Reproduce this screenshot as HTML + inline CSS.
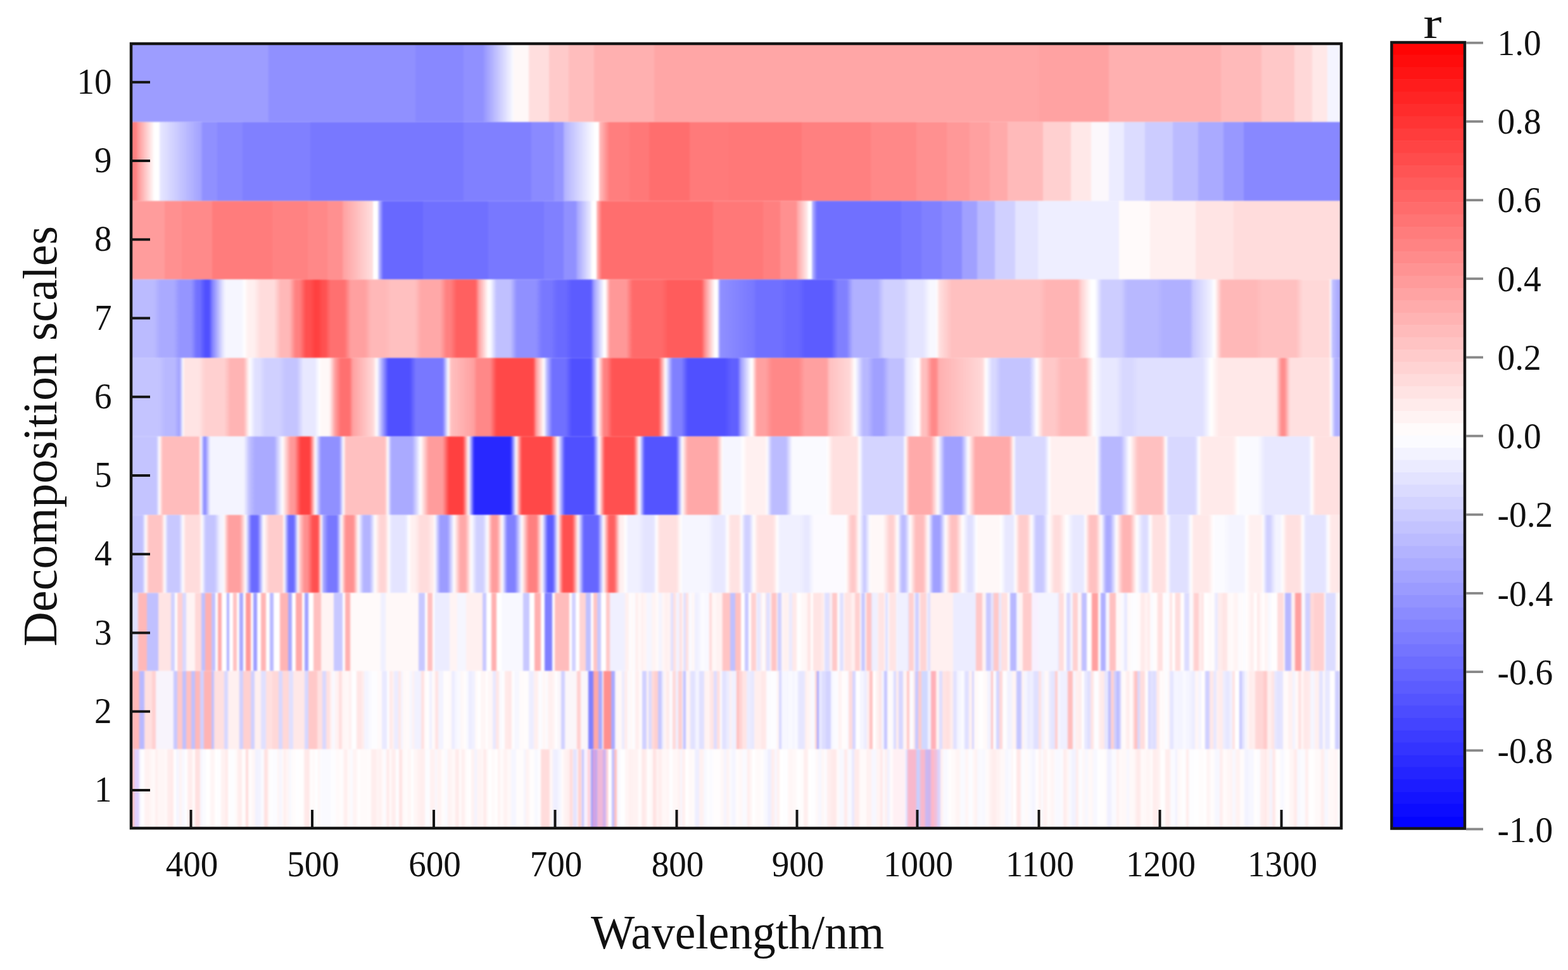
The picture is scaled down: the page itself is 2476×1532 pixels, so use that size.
<!DOCTYPE html><html><head><meta charset="utf-8"><title>Decomposition scales heatmap</title><style>html,body{margin:0;padding:0;background:#fff;}body{width:2476px;height:1532px;overflow:hidden;}svg{display:block;}</style></head><body><svg width="2476" height="1532" viewBox="0 0 2476 1532"><defs><linearGradient id="g1" x1="0" x2="1" y1="0" y2="0"><stop offset="0" stop-color="#9494ff"/><stop offset="1" stop-color="#fbfbff"/></linearGradient><linearGradient id="g2" x1="0" x2="1" y1="0" y2="0"><stop offset="0" stop-color="#ff9090"/><stop offset="1" stop-color="#ffffff"/></linearGradient><linearGradient id="g3" x1="0" x2="1" y1="0" y2="0"><stop offset="0" stop-color="#e8e8ff"/><stop offset="1" stop-color="#a0a0ff"/></linearGradient><linearGradient id="g4" x1="0" x2="1" y1="0" y2="0"><stop offset="0" stop-color="#b0b0ff"/><stop offset="1" stop-color="#ffffff"/></linearGradient><linearGradient id="g5" x1="0" x2="1" y1="0" y2="0"><stop offset="0" stop-color="#ffc0c0"/><stop offset="1" stop-color="#ff8080"/></linearGradient><linearGradient id="g6" x1="0" x2="1" y1="0" y2="0"><stop offset="0" stop-color="#ffa0a0"/><stop offset="1" stop-color="#ffe0e0"/></linearGradient><linearGradient id="g7" x1="0" x2="1" y1="0" y2="0"><stop offset="0" stop-color="#d0d0ff"/><stop offset="1" stop-color="#6868ff"/></linearGradient><linearGradient id="g8" x1="0" x2="1" y1="0" y2="0"><stop offset="0" stop-color="#a0a0ff"/><stop offset="1" stop-color="#f0f0ff"/></linearGradient><linearGradient id="g9" x1="0" x2="1" y1="0" y2="0"><stop offset="0" stop-color="#ffc0c0"/><stop offset="1" stop-color="#ff7070"/></linearGradient><linearGradient id="g10" x1="0" x2="1" y1="0" y2="0"><stop offset="0" stop-color="#ffa0a0"/><stop offset="1" stop-color="#fff0f0"/></linearGradient><linearGradient id="g11" x1="0" x2="1" y1="0" y2="0"><stop offset="0" stop-color="#c0c0ff"/><stop offset="1" stop-color="#7070ff"/></linearGradient><linearGradient id="g12" gradientUnits="userSpaceOnUse" x1="207" x2="2118" y1="0" y2="0"><stop offset="0.00000" stop-color="#bbbbff"/><stop offset="0.00262" stop-color="#bbbbff"/><stop offset="0.01884" stop-color="#bbbbff"/><stop offset="0.02407" stop-color="#aaaaff"/><stop offset="0.03506" stop-color="#aaaaff"/><stop offset="0.04029" stop-color="#9595ff"/><stop offset="0.04971" stop-color="#9595ff"/><stop offset="0.05421" stop-color="#7070ff"/><stop offset="0.05672" stop-color="#7070ff"/><stop offset="0.06112" stop-color="#5050ff"/><stop offset="0.06447" stop-color="#5050ff"/><stop offset="0.06698" stop-color="#8080ff"/><stop offset="0.07535" stop-color="#e0e0ff"/><stop offset="0.07797" stop-color="#f6f6ff"/><stop offset="0.09158" stop-color="#f6f6ff"/><stop offset="0.09354" stop-color="#ffffff"/><stop offset="0.09681" stop-color="#fff0f0"/><stop offset="0.10152" stop-color="#fff0f0"/><stop offset="0.10675" stop-color="#ffdcdc"/><stop offset="0.11826" stop-color="#ffdcdc"/><stop offset="0.12350" stop-color="#ffb8b8"/><stop offset="0.13082" stop-color="#ffb8b8"/><stop offset="0.13595" stop-color="#ff8080"/><stop offset="0.13930" stop-color="#ff8080"/><stop offset="0.14432" stop-color="#ff5050"/><stop offset="0.14767" stop-color="#ff5050"/><stop offset="0.15207" stop-color="#ff4040"/><stop offset="0.15458" stop-color="#ff4040"/><stop offset="0.15819" stop-color="#ff5050"/><stop offset="0.16049" stop-color="#ff5050"/><stop offset="0.16484" stop-color="#ff7070"/><stop offset="0.17635" stop-color="#ff7070"/><stop offset="0.18158" stop-color="#ffa0a0"/><stop offset="0.19309" stop-color="#ffa0a0"/><stop offset="0.19833" stop-color="#ffb8b8"/><stop offset="0.20984" stop-color="#ffb8b8"/><stop offset="0.21507" stop-color="#ffc0c0"/><stop offset="0.23443" stop-color="#ffc0c0"/><stop offset="0.23967" stop-color="#ffa8a8"/><stop offset="0.25536" stop-color="#ffa8a8"/><stop offset="0.26049" stop-color="#ff8080"/><stop offset="0.26384" stop-color="#ff8080"/><stop offset="0.26897" stop-color="#ff6060"/><stop offset="0.28467" stop-color="#ff6060"/><stop offset="0.28728" stop-color="#ffa0a0"/><stop offset="0.29513" stop-color="#ffffff"/><stop offset="0.29723" stop-color="#f8f8ff"/><stop offset="0.30194" stop-color="#c0c0ff"/><stop offset="0.31345" stop-color="#c0c0ff"/><stop offset="0.31868" stop-color="#9090ff"/><stop offset="0.33438" stop-color="#9090ff"/><stop offset="0.33961" stop-color="#7878ff"/><stop offset="0.34694" stop-color="#7878ff"/><stop offset="0.35217" stop-color="#6a6aff"/><stop offset="0.35897" stop-color="#6a6aff"/><stop offset="0.36421" stop-color="#5c5cff"/><stop offset="0.37991" stop-color="#5c5cff"/><stop offset="0.38252" stop-color="#a0a0ff"/><stop offset="0.39089" stop-color="#ffffff"/><stop offset="0.39194" stop-color="#ffffff"/><stop offset="0.39560" stop-color="#ff9898"/><stop offset="0.40921" stop-color="#ff9898"/><stop offset="0.41444" stop-color="#ff6a6a"/><stop offset="0.43851" stop-color="#ff6a6a"/><stop offset="0.44375" stop-color="#ff5c5c"/><stop offset="0.47148" stop-color="#ff5c5c"/><stop offset="0.47410" stop-color="#ff9090"/><stop offset="0.48247" stop-color="#ffffff"/><stop offset="0.48456" stop-color="#ffffff"/><stop offset="0.48666" stop-color="#9090ff"/><stop offset="0.51439" stop-color="#7878ff"/><stop offset="0.51701" stop-color="#7070ff"/><stop offset="0.53689" stop-color="#7070ff"/><stop offset="0.54212" stop-color="#6868ff"/><stop offset="0.55154" stop-color="#6868ff"/><stop offset="0.55678" stop-color="#5c5cff"/><stop offset="0.57875" stop-color="#5c5cff"/><stop offset="0.58399" stop-color="#8080ff"/><stop offset="0.59131" stop-color="#8080ff"/><stop offset="0.59655" stop-color="#b0b0ff"/><stop offset="0.61695" stop-color="#b0b0ff"/><stop offset="0.62219" stop-color="#d0d0ff"/><stop offset="0.63789" stop-color="#d0d0ff"/><stop offset="0.64312" stop-color="#e4e4ff"/><stop offset="0.65463" stop-color="#e4e4ff"/><stop offset="0.65986" stop-color="#f8f8ff"/><stop offset="0.66510" stop-color="#f8f8ff"/><stop offset="0.66558" stop-color="#ffffff"/><stop offset="0.66771" stop-color="#ffe0e0"/><stop offset="0.67818" stop-color="#ffc0c0"/><stop offset="0.68080" stop-color="#ffc0c0"/><stop offset="0.75092" stop-color="#ffc0c0"/><stop offset="0.75615" stop-color="#ffb4b4"/><stop offset="0.78231" stop-color="#ffb4b4"/><stop offset="0.78493" stop-color="#ffd0d0"/><stop offset="0.79330" stop-color="#ffffff"/><stop offset="0.79644" stop-color="#ffffff"/><stop offset="0.80220" stop-color="#cdcdff"/><stop offset="0.81790" stop-color="#cdcdff"/><stop offset="0.82313" stop-color="#b8b8ff"/><stop offset="0.84772" stop-color="#b8b8ff"/><stop offset="0.85296" stop-color="#b0b0ff"/><stop offset="0.87493" stop-color="#b0b0ff"/><stop offset="0.87755" stop-color="#c8c8ff"/><stop offset="0.89220" stop-color="#f0f0ff"/><stop offset="0.89534" stop-color="#ffffff"/><stop offset="0.90110" stop-color="#ffb8b8"/><stop offset="0.92936" stop-color="#ffb8b8"/><stop offset="0.93459" stop-color="#ffc0c0"/><stop offset="0.96285" stop-color="#ffc0c0"/><stop offset="0.96808" stop-color="#ffd8d8"/><stop offset="0.99006" stop-color="#ffd8d8"/><stop offset="0.99106" stop-color="#ffffff"/><stop offset="0.99267" stop-color="#c0c0ff"/><stop offset="1.00000" stop-color="#a0a0ff"/></linearGradient><linearGradient id="g13" gradientUnits="userSpaceOnUse" x1="207" x2="2118" y1="0" y2="0"><stop offset="0.00000" stop-color="#c4c4ff"/><stop offset="0.00262" stop-color="#c4c4ff"/><stop offset="0.02302" stop-color="#c4c4ff"/><stop offset="0.02826" stop-color="#b8b8ff"/><stop offset="0.03611" stop-color="#b8b8ff"/><stop offset="0.04003" stop-color="#a0a0ff"/><stop offset="0.04309" stop-color="#ffffff"/><stop offset="0.04396" stop-color="#ffe4e4"/><stop offset="0.05599" stop-color="#ffe4e4"/><stop offset="0.06122" stop-color="#ffd0d0"/><stop offset="0.07692" stop-color="#ffd0d0"/><stop offset="0.08216" stop-color="#ffb4b4"/><stop offset="0.09314" stop-color="#ffb4b4"/><stop offset="0.09785" stop-color="#ffffff"/><stop offset="0.10246" stop-color="#e0e0ff"/><stop offset="0.10581" stop-color="#e0e0ff"/><stop offset="0.11094" stop-color="#d0d0ff"/><stop offset="0.12245" stop-color="#d0d0ff"/><stop offset="0.12768" stop-color="#c4c4ff"/><stop offset="0.13710" stop-color="#c4c4ff"/><stop offset="0.14233" stop-color="#e8e8ff"/><stop offset="0.15175" stop-color="#e8e8ff"/><stop offset="0.15576" stop-color="#ffffff"/><stop offset="0.15699" stop-color="#fff8f8"/><stop offset="0.16379" stop-color="#fff8f8"/><stop offset="0.16850" stop-color="#ffa0a0"/><stop offset="0.17321" stop-color="#ff7070"/><stop offset="0.18053" stop-color="#ff7070"/><stop offset="0.18315" stop-color="#ffa0a0"/><stop offset="0.19990" stop-color="#ffd8d8"/><stop offset="0.20304" stop-color="#ffffff"/><stop offset="0.20617" stop-color="#c0c0ff"/><stop offset="0.21245" stop-color="#5050ff"/><stop offset="0.21507" stop-color="#5050ff"/><stop offset="0.23025" stop-color="#5050ff"/><stop offset="0.23548" stop-color="#7878ff"/><stop offset="0.25746" stop-color="#7878ff"/><stop offset="0.26217" stop-color="#ffffff"/><stop offset="0.26426" stop-color="#ffc0c0"/><stop offset="0.28310" stop-color="#ffa0a0"/><stop offset="0.28571" stop-color="#ff8888"/><stop offset="0.29670" stop-color="#ff8888"/><stop offset="0.30194" stop-color="#ff4848"/><stop offset="0.33229" stop-color="#ff4848"/><stop offset="0.33490" stop-color="#ffa0a0"/><stop offset="0.34118" stop-color="#ffffff"/><stop offset="0.34328" stop-color="#c0c0ff"/><stop offset="0.34799" stop-color="#7070ff"/><stop offset="0.35897" stop-color="#7070ff"/><stop offset="0.36421" stop-color="#5050ff"/><stop offset="0.37991" stop-color="#5050ff"/><stop offset="0.38566" stop-color="#ffffff"/><stop offset="0.39069" stop-color="#ff8080"/><stop offset="0.39320" stop-color="#ff8080"/><stop offset="0.39770" stop-color="#ff5454"/><stop offset="0.43590" stop-color="#ff5454"/><stop offset="0.44165" stop-color="#ffffff"/><stop offset="0.44741" stop-color="#8080ff"/><stop offset="0.45474" stop-color="#8080ff"/><stop offset="0.45997" stop-color="#5050ff"/><stop offset="0.49084" stop-color="#5050ff"/><stop offset="0.49608" stop-color="#6060ff"/><stop offset="0.50131" stop-color="#6060ff"/><stop offset="0.50392" stop-color="#a0a0ff"/><stop offset="0.51230" stop-color="#ffffff"/><stop offset="0.51334" stop-color="#ffffff"/><stop offset="0.51701" stop-color="#ffa0a0"/><stop offset="0.52433" stop-color="#ffa0a0"/><stop offset="0.52957" stop-color="#ff8888"/><stop offset="0.55154" stop-color="#ff8888"/><stop offset="0.55678" stop-color="#ffa0a0"/><stop offset="0.57457" stop-color="#ffa0a0"/><stop offset="0.57718" stop-color="#ffc0c0"/><stop offset="0.59393" stop-color="#ffd8d8"/><stop offset="0.59812" stop-color="#ffffff"/><stop offset="0.60492" stop-color="#b8b8ff"/><stop offset="0.60858" stop-color="#b8b8ff"/><stop offset="0.61381" stop-color="#a0a0ff"/><stop offset="0.62114" stop-color="#a0a0ff"/><stop offset="0.62637" stop-color="#c0c0ff"/><stop offset="0.63789" stop-color="#c0c0ff"/><stop offset="0.64050" stop-color="#e4e4ff"/><stop offset="0.65097" stop-color="#ffffff"/><stop offset="0.65348" stop-color="#ffc0c0"/><stop offset="0.65683" stop-color="#ffc0c0"/><stop offset="0.66185" stop-color="#ff8888"/><stop offset="0.66520" stop-color="#ff8888"/><stop offset="0.66771" stop-color="#ffb0b0"/><stop offset="0.70330" stop-color="#ffd8d8"/><stop offset="0.70644" stop-color="#ffffff"/><stop offset="0.71146" stop-color="#d8d8ff"/><stop offset="0.71397" stop-color="#d8d8ff"/><stop offset="0.71847" stop-color="#c4c4ff"/><stop offset="0.74254" stop-color="#c4c4ff"/><stop offset="0.74830" stop-color="#ffffff"/><stop offset="0.75406" stop-color="#ffc8c8"/><stop offset="0.76347" stop-color="#ffc8c8"/><stop offset="0.76871" stop-color="#ffb8b8"/><stop offset="0.78859" stop-color="#ffb8b8"/><stop offset="0.79540" stop-color="#ffffff"/><stop offset="0.80220" stop-color="#e8e8ff"/><stop offset="0.81423" stop-color="#e8e8ff"/><stop offset="0.81947" stop-color="#d8d8ff"/><stop offset="0.82679" stop-color="#d8d8ff"/><stop offset="0.83203" stop-color="#e0e0ff"/><stop offset="0.88540" stop-color="#e0e0ff"/><stop offset="0.89220" stop-color="#ffffff"/><stop offset="0.89901" stop-color="#ffe8e8"/><stop offset="0.94610" stop-color="#ffe8e8"/><stop offset="0.95060" stop-color="#ff8c8c"/><stop offset="0.95311" stop-color="#ff8c8c"/><stop offset="0.95761" stop-color="#ffe0e0"/><stop offset="0.99006" stop-color="#ffe0e0"/><stop offset="0.99141" stop-color="#ffffff"/><stop offset="0.99487" stop-color="#b0b0ff"/><stop offset="0.99780" stop-color="#b0b0ff"/><stop offset="1.00000" stop-color="#b0b0ff"/></linearGradient><linearGradient id="g14" gradientUnits="userSpaceOnUse" x1="207" x2="2118" y1="0" y2="0"><stop offset="0.00000" stop-color="#c4c4ff"/><stop offset="0.00262" stop-color="#c4c4ff"/><stop offset="0.02093" stop-color="#c4c4ff"/><stop offset="0.02338" stop-color="#ffffff"/><stop offset="0.02616" stop-color="#ffbcbc"/><stop offset="0.05599" stop-color="#ffbcbc"/><stop offset="0.05762" stop-color="#ffffff"/><stop offset="0.06070" stop-color="#8080ff"/><stop offset="0.06541" stop-color="#f4f4ff"/><stop offset="0.09314" stop-color="#f4f4ff"/><stop offset="0.09785" stop-color="#c0c0ff"/><stop offset="0.10256" stop-color="#aaaaff"/><stop offset="0.11826" stop-color="#aaaaff"/><stop offset="0.12507" stop-color="#ffffff"/><stop offset="0.13176" stop-color="#ff9898"/><stop offset="0.13511" stop-color="#ff9898"/><stop offset="0.14024" stop-color="#ff4040"/><stop offset="0.14757" stop-color="#ff4040"/><stop offset="0.15228" stop-color="#ffffff"/><stop offset="0.15699" stop-color="#9090ff"/><stop offset="0.17216" stop-color="#9090ff"/><stop offset="0.17550" stop-color="#ffffff"/><stop offset="0.17739" stop-color="#ffc0c0"/><stop offset="0.20984" stop-color="#ffc0c0"/><stop offset="0.21207" stop-color="#ffffff"/><stop offset="0.21507" stop-color="#aaaaff"/><stop offset="0.23234" stop-color="#aaaaff"/><stop offset="0.23914" stop-color="#ffffff"/><stop offset="0.24594" stop-color="#ff9c9c"/><stop offset="0.25746" stop-color="#ff9c9c"/><stop offset="0.26269" stop-color="#ff4040"/><stop offset="0.27420" stop-color="#ff4040"/><stop offset="0.27891" stop-color="#ffffff"/><stop offset="0.28362" stop-color="#2828ff"/><stop offset="0.31345" stop-color="#2828ff"/><stop offset="0.31816" stop-color="#ffffff"/><stop offset="0.32287" stop-color="#ff4848"/><stop offset="0.34694" stop-color="#ff4848"/><stop offset="0.35269" stop-color="#ffffff"/><stop offset="0.35845" stop-color="#5050ff"/><stop offset="0.38200" stop-color="#5050ff"/><stop offset="0.38671" stop-color="#ffffff"/><stop offset="0.39142" stop-color="#ff5050"/><stop offset="0.41549" stop-color="#ff5050"/><stop offset="0.41994" stop-color="#ffffff"/><stop offset="0.42439" stop-color="#5454ff"/><stop offset="0.45055" stop-color="#5454ff"/><stop offset="0.45526" stop-color="#ffffff"/><stop offset="0.45997" stop-color="#ffa8a8"/><stop offset="0.48404" stop-color="#ffa8a8"/><stop offset="0.48878" stop-color="#ffffff"/><stop offset="0.48927" stop-color="#f6f6ff"/><stop offset="0.50340" stop-color="#f6f6ff"/><stop offset="0.50536" stop-color="#ffffff"/><stop offset="0.50863" stop-color="#fff0f0"/><stop offset="0.52433" stop-color="#fff0f0"/><stop offset="0.52529" stop-color="#ffffff"/><stop offset="0.52957" stop-color="#bcbcff"/><stop offset="0.54108" stop-color="#bcbcff"/><stop offset="0.54631" stop-color="#fafaff"/><stop offset="0.57457" stop-color="#fafaff"/><stop offset="0.57530" stop-color="#ffffff"/><stop offset="0.57980" stop-color="#ffe0e0"/><stop offset="0.59969" stop-color="#ffe0e0"/><stop offset="0.60188" stop-color="#ffffff"/><stop offset="0.60492" stop-color="#d4d4ff"/><stop offset="0.63789" stop-color="#d4d4ff"/><stop offset="0.63964" stop-color="#ffffff"/><stop offset="0.64312" stop-color="#ffaaaa"/><stop offset="0.66091" stop-color="#ffaaaa"/><stop offset="0.66667" stop-color="#ffffff"/><stop offset="0.67242" stop-color="#a0a0ff"/><stop offset="0.68603" stop-color="#a0a0ff"/><stop offset="0.69178" stop-color="#ffffff"/><stop offset="0.69754" stop-color="#ffaaaa"/><stop offset="0.72580" stop-color="#ffaaaa"/><stop offset="0.72939" stop-color="#ffffff"/><stop offset="0.73103" stop-color="#d8d8ff"/><stop offset="0.75510" stop-color="#d8d8ff"/><stop offset="0.75888" stop-color="#ffffff"/><stop offset="0.76033" stop-color="#fff0f0"/><stop offset="0.79696" stop-color="#fff0f0"/><stop offset="0.79788" stop-color="#ffffff"/><stop offset="0.80220" stop-color="#b8b8ff"/><stop offset="0.81790" stop-color="#b8b8ff"/><stop offset="0.82496" stop-color="#ffffff"/><stop offset="0.83203" stop-color="#ffc0c0"/><stop offset="0.85191" stop-color="#ffc0c0"/><stop offset="0.85514" stop-color="#ffffff"/><stop offset="0.85714" stop-color="#d8d8ff"/><stop offset="0.87912" stop-color="#d8d8ff"/><stop offset="0.88252" stop-color="#ffffff"/><stop offset="0.88435" stop-color="#ffeaea"/><stop offset="0.91052" stop-color="#ffeaea"/><stop offset="0.91474" stop-color="#ffffff"/><stop offset="0.91575" stop-color="#fafaff"/><stop offset="0.93145" stop-color="#fafaff"/><stop offset="0.93668" stop-color="#e8e8ff"/><stop offset="0.97331" stop-color="#e8e8ff"/><stop offset="0.97554" stop-color="#ffffff"/><stop offset="0.97855" stop-color="#ffe0e0"/><stop offset="0.99738" stop-color="#ffe0e0"/><stop offset="1.00000" stop-color="#ffe0e0"/></linearGradient><linearGradient id="g15" gradientUnits="userSpaceOnUse" x1="207" x2="2118" y1="0" y2="0"><stop offset="0.00000" stop-color="#c0c0ff"/><stop offset="0.00262" stop-color="#c0c0ff"/><stop offset="0.00942" stop-color="#c0c0ff"/><stop offset="0.01212" stop-color="#ffffff"/><stop offset="0.01465" stop-color="#ffc4c4"/><stop offset="0.02512" stop-color="#ffc4c4"/><stop offset="0.02783" stop-color="#ffffff"/><stop offset="0.03035" stop-color="#c8c8ff"/><stop offset="0.03977" stop-color="#c8c8ff"/><stop offset="0.04297" stop-color="#ffffff"/><stop offset="0.04500" stop-color="#ffdcdc"/><stop offset="0.05651" stop-color="#ffdcdc"/><stop offset="0.05846" stop-color="#ffffff"/><stop offset="0.06175" stop-color="#c4c4ff"/><stop offset="0.06907" stop-color="#c4c4ff"/><stop offset="0.07357" stop-color="#f4f4ff"/><stop offset="0.07609" stop-color="#f4f4ff"/><stop offset="0.07655" stop-color="#ffffff"/><stop offset="0.08059" stop-color="#ffa0a0"/><stop offset="0.09001" stop-color="#ffa0a0"/><stop offset="0.09471" stop-color="#ffffff"/><stop offset="0.09942" stop-color="#6a6aff"/><stop offset="0.10466" stop-color="#6a6aff"/><stop offset="0.10937" stop-color="#ffffff"/><stop offset="0.11408" stop-color="#ffcccc"/><stop offset="0.12507" stop-color="#ffcccc"/><stop offset="0.12640" stop-color="#ffffff"/><stop offset="0.13030" stop-color="#6a6aff"/><stop offset="0.13448" stop-color="#6a6aff"/><stop offset="0.13806" stop-color="#ffffff"/><stop offset="0.13919" stop-color="#ffd0d0"/><stop offset="0.14317" stop-color="#ff9090"/><stop offset="0.14568" stop-color="#ff9090"/><stop offset="0.15018" stop-color="#ff5050"/><stop offset="0.15437" stop-color="#ff5050"/><stop offset="0.15725" stop-color="#ffffff"/><stop offset="0.15856" stop-color="#b0b0ff"/><stop offset="0.16274" stop-color="#7878ff"/><stop offset="0.17007" stop-color="#7878ff"/><stop offset="0.17373" stop-color="#ffffff"/><stop offset="0.17739" stop-color="#ff9090"/><stop offset="0.18367" stop-color="#ff9090"/><stop offset="0.18786" stop-color="#ffffff"/><stop offset="0.19205" stop-color="#b4b4ff"/><stop offset="0.19728" stop-color="#b4b4ff"/><stop offset="0.20147" stop-color="#ffffff"/><stop offset="0.20565" stop-color="#ffd4d4"/><stop offset="0.20984" stop-color="#ffd4d4"/><stop offset="0.21305" stop-color="#ffffff"/><stop offset="0.21507" stop-color="#e4e4ff"/><stop offset="0.22658" stop-color="#e4e4ff"/><stop offset="0.22968" stop-color="#ffffff"/><stop offset="0.23140" stop-color="#fff0f0"/><stop offset="0.23433" stop-color="#fff0f0"/><stop offset="0.23914" stop-color="#ffdcdc"/><stop offset="0.24490" stop-color="#ffdcdc"/><stop offset="0.25013" stop-color="#fff0f0"/><stop offset="0.25082" stop-color="#ffffff"/><stop offset="0.25536" stop-color="#9c9cff"/><stop offset="0.26164" stop-color="#9c9cff"/><stop offset="0.26688" stop-color="#ffffff"/><stop offset="0.27211" stop-color="#ffa8a8"/><stop offset="0.27630" stop-color="#ffa8a8"/><stop offset="0.28100" stop-color="#ffffff"/><stop offset="0.28571" stop-color="#d0d0ff"/><stop offset="0.29095" stop-color="#d0d0ff"/><stop offset="0.29461" stop-color="#ffffff"/><stop offset="0.29827" stop-color="#ff9c9c"/><stop offset="0.30246" stop-color="#ff9c9c"/><stop offset="0.30665" stop-color="#ffffff"/><stop offset="0.31083" stop-color="#8080ff"/><stop offset="0.31711" stop-color="#8080ff"/><stop offset="0.32287" stop-color="#ffffff"/><stop offset="0.32862" stop-color="#ff8080"/><stop offset="0.33490" stop-color="#ff8080"/><stop offset="0.33961" stop-color="#ffffff"/><stop offset="0.34432" stop-color="#5c5cff"/><stop offset="0.34851" stop-color="#5c5cff"/><stop offset="0.35269" stop-color="#ffffff"/><stop offset="0.35688" stop-color="#ff5050"/><stop offset="0.36473" stop-color="#ff5050"/><stop offset="0.36944" stop-color="#ffffff"/><stop offset="0.37415" stop-color="#6666ff"/><stop offset="0.38566" stop-color="#6666ff"/><stop offset="0.39037" stop-color="#ffffff"/><stop offset="0.39508" stop-color="#ff6060"/><stop offset="0.39927" stop-color="#ff6060"/><stop offset="0.40377" stop-color="#fff0f0"/><stop offset="0.40628" stop-color="#fff0f0"/><stop offset="0.40853" stop-color="#ffffff"/><stop offset="0.41078" stop-color="#f0f0ff"/><stop offset="0.41915" stop-color="#f0f0ff"/><stop offset="0.42439" stop-color="#e4e4ff"/><stop offset="0.43171" stop-color="#e4e4ff"/><stop offset="0.43415" stop-color="#ffffff"/><stop offset="0.43694" stop-color="#ffe0e0"/><stop offset="0.45055" stop-color="#ffe0e0"/><stop offset="0.45460" stop-color="#ffffff"/><stop offset="0.45578" stop-color="#f6f6ff"/><stop offset="0.47671" stop-color="#f6f6ff"/><stop offset="0.48195" stop-color="#e8e8ff"/><stop offset="0.49032" stop-color="#e8e8ff"/><stop offset="0.49263" stop-color="#ffffff"/><stop offset="0.49555" stop-color="#ffe2e2"/><stop offset="0.50235" stop-color="#ffe2e2"/><stop offset="0.50431" stop-color="#ffffff"/><stop offset="0.50748" stop-color="#d0d0ff"/><stop offset="0.51083" stop-color="#d0d0ff"/><stop offset="0.51439" stop-color="#ffffff"/><stop offset="0.51805" stop-color="#ffe0e0"/><stop offset="0.53061" stop-color="#ffe0e0"/><stop offset="0.53414" stop-color="#ffffff"/><stop offset="0.53585" stop-color="#f0f0ff"/><stop offset="0.55259" stop-color="#f0f0ff"/><stop offset="0.55709" stop-color="#e8e8ff"/><stop offset="0.55960" stop-color="#e8e8ff"/><stop offset="0.56410" stop-color="#fcfaff"/><stop offset="0.59027" stop-color="#fcfaff"/><stop offset="0.59052" stop-color="#ffffff"/><stop offset="0.59508" stop-color="#ffc8c8"/><stop offset="0.59801" stop-color="#ffc8c8"/><stop offset="0.60178" stop-color="#ffffff"/><stop offset="0.60597" stop-color="#c4c4ff"/><stop offset="0.61064" stop-color="#ffffff"/><stop offset="0.61120" stop-color="#fff8f8"/><stop offset="0.62166" stop-color="#fff8f8"/><stop offset="0.62664" stop-color="#ffd0d0"/><stop offset="0.62977" stop-color="#ffd0d0"/><stop offset="0.63344" stop-color="#ffffff"/><stop offset="0.63679" stop-color="#bcbcff"/><stop offset="0.63951" stop-color="#bcbcff"/><stop offset="0.64364" stop-color="#ffffff"/><stop offset="0.64835" stop-color="#ffbcbc"/><stop offset="0.65463" stop-color="#ffbcbc"/><stop offset="0.65882" stop-color="#ffffff"/><stop offset="0.66300" stop-color="#a0a0ff"/><stop offset="0.66824" stop-color="#a0a0ff"/><stop offset="0.67295" stop-color="#ffffff"/><stop offset="0.67766" stop-color="#ffc0c0"/><stop offset="0.68184" stop-color="#ffc0c0"/><stop offset="0.68707" stop-color="#ffffff"/><stop offset="0.69189" stop-color="#e0e0ff"/><stop offset="0.69482" stop-color="#e0e0ff"/><stop offset="0.69875" stop-color="#ffffff"/><stop offset="0.69963" stop-color="#fff8f8"/><stop offset="0.71743" stop-color="#fff8f8"/><stop offset="0.71865" stop-color="#ffffff"/><stop offset="0.72266" stop-color="#e8e8ff"/><stop offset="0.72894" stop-color="#e8e8ff"/><stop offset="0.73056" stop-color="#ffffff"/><stop offset="0.73417" stop-color="#ffcccc"/><stop offset="0.74045" stop-color="#ffcccc"/><stop offset="0.74411" stop-color="#ffffff"/><stop offset="0.74778" stop-color="#c8c8ff"/><stop offset="0.75353" stop-color="#c8c8ff"/><stop offset="0.75824" stop-color="#ffffff"/><stop offset="0.76295" stop-color="#ffdcdc"/><stop offset="0.76714" stop-color="#ffdcdc"/><stop offset="0.77289" stop-color="#ffffff"/><stop offset="0.77865" stop-color="#e8e8ff"/><stop offset="0.78702" stop-color="#e8e8ff"/><stop offset="0.78842" stop-color="#ffffff"/><stop offset="0.79226" stop-color="#ffc0c0"/><stop offset="0.79749" stop-color="#ffc0c0"/><stop offset="0.80167" stop-color="#ffffff"/><stop offset="0.80576" stop-color="#aaaaff"/><stop offset="0.80911" stop-color="#aaaaff"/><stop offset="0.81423" stop-color="#ffffff"/><stop offset="0.81947" stop-color="#ffb4b4"/><stop offset="0.82575" stop-color="#ffb4b4"/><stop offset="0.83098" stop-color="#ffffff"/><stop offset="0.83611" stop-color="#dcdcff"/><stop offset="0.83946" stop-color="#dcdcff"/><stop offset="0.84218" stop-color="#ffffff"/><stop offset="0.84458" stop-color="#ffe0e0"/><stop offset="0.85400" stop-color="#ffe0e0"/><stop offset="0.85662" stop-color="#ffffff"/><stop offset="0.85924" stop-color="#e0e0ff"/><stop offset="0.87284" stop-color="#e0e0ff"/><stop offset="0.87585" stop-color="#ffffff"/><stop offset="0.87807" stop-color="#ffe8e8"/><stop offset="0.89011" stop-color="#ffe8e8"/><stop offset="0.89457" stop-color="#ffffff"/><stop offset="0.89534" stop-color="#fbfbff"/><stop offset="0.90267" stop-color="#fbfbff"/><stop offset="0.90790" stop-color="#f4f4ff"/><stop offset="0.91941" stop-color="#f4f4ff"/><stop offset="0.92163" stop-color="#ffffff"/><stop offset="0.92465" stop-color="#fff0f0"/><stop offset="0.93407" stop-color="#fff0f0"/><stop offset="0.93515" stop-color="#ffffff"/><stop offset="0.93857" stop-color="#d0d0ff"/><stop offset="0.94108" stop-color="#d0d0ff"/><stop offset="0.94558" stop-color="#f4f4ff"/><stop offset="0.94976" stop-color="#f4f4ff"/><stop offset="0.95114" stop-color="#ffffff"/><stop offset="0.95500" stop-color="#ffe0e0"/><stop offset="0.96546" stop-color="#ffe0e0"/><stop offset="0.96826" stop-color="#ffffff"/><stop offset="0.97070" stop-color="#e4e4ff"/><stop offset="0.98639" stop-color="#e4e4ff"/><stop offset="0.98922" stop-color="#ffffff"/><stop offset="0.99163" stop-color="#ffe8e8"/><stop offset="0.99738" stop-color="#ffe8e8"/><stop offset="1.00000" stop-color="#ffe8e8"/></linearGradient></defs><filter id="bl" x="0" y="0" width="1" height="1" color-interpolation-filters="sRGB"><feGaussianBlur stdDeviation="1.6 1.2" edgeMode="duplicate"/></filter><g filter="url(#bl)"><rect x="207" y="68.80" width="217" height="123.90" fill="#9d9dff"/><rect x="424" y="68.80" width="232" height="123.90" fill="#9090ff"/><rect x="656" y="68.80" width="76" height="123.90" fill="#8888ff"/><rect x="732" y="68.80" width="31" height="123.90" fill="#9090ff"/><rect x="763" y="68.80" width="48" height="123.90" fill="url(#g1)"/><rect x="811" y="68.80" width="24" height="123.90" fill="#fff8f8"/><rect x="835" y="68.80" width="32" height="123.90" fill="#ffdede"/><rect x="867" y="68.80" width="31" height="123.90" fill="#ffcaca"/><rect x="898" y="68.80" width="40" height="123.90" fill="#ffbdbd"/><rect x="938" y="68.80" width="95" height="123.90" fill="#ffb0b0"/><rect x="1033" y="68.80" width="607" height="123.90" fill="#ffa6a6"/><rect x="1640" y="68.80" width="111" height="123.90" fill="#ffa2a2"/><rect x="1751" y="68.80" width="177" height="123.90" fill="#ffb0b0"/><rect x="1928" y="68.80" width="64" height="123.90" fill="#ffbaba"/><rect x="1992" y="68.80" width="52" height="123.90" fill="#ffc8c8"/><rect x="2044" y="68.80" width="28" height="123.90" fill="#ffd8d8"/><rect x="2072" y="68.80" width="24" height="123.90" fill="#ffe8e8"/><rect x="2096" y="68.80" width="22" height="123.90" fill="#f4f4ff"/><rect x="207" y="192.70" width="9" height="124.70" fill="#ff8080"/><rect x="216" y="192.70" width="28" height="124.70" fill="url(#g2)"/><rect x="244" y="192.70" width="8" height="124.70" fill="#ffffff"/><rect x="252" y="192.70" width="67" height="124.70" fill="url(#g3)"/><rect x="319" y="192.70" width="24" height="124.70" fill="#9090ff"/><rect x="343" y="192.70" width="40" height="124.70" fill="#8888ff"/><rect x="383" y="192.70" width="107" height="124.70" fill="#8080ff"/><rect x="490" y="192.70" width="242" height="124.70" fill="#7878ff"/><rect x="732" y="192.70" width="107" height="124.70" fill="#8080ff"/><rect x="839" y="192.70" width="36" height="124.70" fill="#8a8aff"/><rect x="875" y="192.70" width="15" height="124.70" fill="#9595ff"/><rect x="890" y="192.70" width="50" height="124.70" fill="url(#g4)"/><rect x="940" y="192.70" width="6" height="124.70" fill="#ffffff"/><rect x="946" y="192.70" width="16" height="124.70" fill="url(#g5)"/><rect x="962" y="192.70" width="32" height="124.70" fill="#ff7e7e"/><rect x="994" y="192.70" width="31" height="124.70" fill="#ff7878"/><rect x="1025" y="192.70" width="64" height="124.70" fill="#ff6e6e"/><rect x="1089" y="192.70" width="61" height="124.70" fill="#ff7a7a"/><rect x="1150" y="192.70" width="116" height="124.70" fill="#ff7878"/><rect x="1266" y="192.70" width="109" height="124.70" fill="#ff8080"/><rect x="1375" y="192.70" width="72" height="124.70" fill="#ff8888"/><rect x="1447" y="192.70" width="48" height="124.70" fill="#ff9090"/><rect x="1495" y="192.70" width="36" height="124.70" fill="#ff9898"/><rect x="1531" y="192.70" width="32" height="124.70" fill="#ffa0a0"/><rect x="1563" y="192.70" width="28" height="124.70" fill="#ffaaaa"/><rect x="1591" y="192.70" width="56" height="124.70" fill="#ffbaba"/><rect x="1647" y="192.70" width="44" height="124.70" fill="#ffd0d0"/><rect x="1691" y="192.70" width="32" height="124.70" fill="#ffe8e8"/><rect x="1723" y="192.70" width="28" height="124.70" fill="#fcf8fc"/><rect x="1751" y="192.70" width="24" height="124.70" fill="#ececff"/><rect x="1775" y="192.70" width="33" height="124.70" fill="#dcdcff"/><rect x="1808" y="192.70" width="44" height="124.70" fill="#ccccff"/><rect x="1852" y="192.70" width="40" height="124.70" fill="#bbbbff"/><rect x="1892" y="192.70" width="40" height="124.70" fill="#aaaaff"/><rect x="1932" y="192.70" width="32" height="124.70" fill="#9898ff"/><rect x="1964" y="192.70" width="154" height="124.70" fill="#8888ff"/><rect x="207" y="317.40" width="53" height="124.00" fill="#ff9c9c"/><rect x="260" y="317.40" width="27" height="124.00" fill="#ff9090"/><rect x="287" y="317.40" width="48" height="124.00" fill="#ff8a8a"/><rect x="335" y="317.40" width="95" height="124.00" fill="#ff7c7c"/><rect x="430" y="317.40" width="56" height="124.00" fill="#ff8282"/><rect x="486" y="317.40" width="31" height="124.00" fill="#ff8888"/><rect x="517" y="317.40" width="24" height="124.00" fill="#ff9090"/><rect x="541" y="317.40" width="48" height="124.00" fill="url(#g6)"/><rect x="589" y="317.40" width="8" height="124.00" fill="#ffffff"/><rect x="597" y="317.40" width="8" height="124.00" fill="url(#g7)"/><rect x="605" y="317.40" width="63" height="124.00" fill="#6868ff"/><rect x="668" y="317.40" width="103" height="124.00" fill="#7070ff"/><rect x="771" y="317.40" width="88" height="124.00" fill="#7878ff"/><rect x="859" y="317.40" width="31" height="124.00" fill="#8080ff"/><rect x="890" y="317.40" width="20" height="124.00" fill="#9090ff"/><rect x="910" y="317.40" width="24" height="124.00" fill="url(#g8)"/><rect x="934" y="317.40" width="8" height="124.00" fill="#ffffff"/><rect x="942" y="317.40" width="8" height="124.00" fill="url(#g9)"/><rect x="950" y="317.40" width="176" height="124.00" fill="#ff6e6e"/><rect x="1126" y="317.40" width="79" height="124.00" fill="#ff7878"/><rect x="1205" y="317.40" width="27" height="124.00" fill="#ff8080"/><rect x="1232" y="317.40" width="26" height="124.00" fill="#ff9090"/><rect x="1258" y="317.40" width="18" height="124.00" fill="url(#g10)"/><rect x="1276" y="317.40" width="6" height="124.00" fill="#ffffff"/><rect x="1282" y="317.40" width="8" height="124.00" fill="url(#g11)"/><rect x="1290" y="317.40" width="133" height="124.00" fill="#7070ff"/><rect x="1423" y="317.40" width="32" height="124.00" fill="#7878ff"/><rect x="1455" y="317.40" width="32" height="124.00" fill="#8080ff"/><rect x="1487" y="317.40" width="32" height="124.00" fill="#8a8aff"/><rect x="1519" y="317.40" width="24" height="124.00" fill="#a0a0ff"/><rect x="1543" y="317.40" width="28" height="124.00" fill="#b8b8ff"/><rect x="1571" y="317.40" width="32" height="124.00" fill="#d0d0ff"/><rect x="1603" y="317.40" width="36" height="124.00" fill="#e4e4ff"/><rect x="1639" y="317.40" width="128" height="124.00" fill="#eeeeff"/><rect x="1767" y="317.40" width="49" height="124.00" fill="#fffafa"/><rect x="1816" y="317.40" width="72" height="124.00" fill="#fff0f0"/><rect x="1888" y="317.40" width="60" height="124.00" fill="#ffe4e4"/><rect x="1948" y="317.40" width="170" height="124.00" fill="#ffdcdc"/><rect x="207" y="441.40" width="1911" height="123.90" fill="url(#g12)"/><rect x="207" y="565.30" width="1911" height="124.00" fill="url(#g13)"/><rect x="207" y="689.30" width="1911" height="124.00" fill="url(#g14)"/><rect x="207" y="813.30" width="1911" height="123.20" fill="url(#g15)"/><rect x="207" y="936.50" width="1911" height="123.30" fill="#fdf8fb"/><rect x="987" y="936.50" width="6" height="123.30" fill="#fff0f0"/><rect x="993" y="936.50" width="3" height="123.30" fill="#fdfdff"/><rect x="996" y="936.50" width="4" height="123.30" fill="#fffafa"/><rect x="1000" y="936.50" width="3" height="123.30" fill="#fcfcff"/><rect x="1003" y="936.50" width="5" height="123.30" fill="#ffefef"/><rect x="1008" y="936.50" width="4" height="123.30" fill="#fff9f9"/><rect x="1012" y="936.50" width="5" height="123.30" fill="#fff1f1"/><rect x="1017" y="936.50" width="4" height="123.30" fill="#fff5f5"/><rect x="1021" y="936.50" width="5" height="123.30" fill="#f6f6ff"/><rect x="1026" y="936.50" width="3" height="123.30" fill="#f5f5ff"/><rect x="1029" y="936.50" width="7" height="123.30" fill="#fff4f4"/><rect x="1036" y="936.50" width="4" height="123.30" fill="#fffafa"/><rect x="1040" y="936.50" width="5" height="123.30" fill="#f4f4ff"/><rect x="1045" y="936.50" width="5" height="123.30" fill="#fff5f5"/><rect x="1050" y="936.50" width="4" height="123.30" fill="#ffefef"/><rect x="1054" y="936.50" width="5" height="123.30" fill="#fff2f2"/><rect x="1059" y="936.50" width="6" height="123.30" fill="#ffecec"/><rect x="1065" y="936.50" width="3" height="123.30" fill="#fff1f1"/><rect x="1068" y="936.50" width="5" height="123.30" fill="#f2f2ff"/><rect x="1073" y="936.50" width="6" height="123.30" fill="#fffcfc"/><rect x="1079" y="936.50" width="8" height="123.30" fill="#f6f6ff"/><rect x="1087" y="936.50" width="5" height="123.30" fill="#fafaff"/><rect x="1092" y="936.50" width="5" height="123.30" fill="#fff7f7"/><rect x="1097" y="936.50" width="5" height="123.30" fill="#efefff"/><rect x="1102" y="936.50" width="4" height="123.30" fill="#f4f4ff"/><rect x="1106" y="936.50" width="6" height="123.30" fill="#fbfbff"/><rect x="1112" y="936.50" width="8" height="123.30" fill="#f9f9ff"/><rect x="1120" y="936.50" width="4" height="123.30" fill="#ffdada"/><rect x="1124" y="936.50" width="7" height="123.30" fill="#fff7f7"/><rect x="1131" y="936.50" width="8" height="123.30" fill="#fff2f2"/><rect x="1139" y="936.50" width="7" height="123.30" fill="#ffeaea"/><rect x="1146" y="936.50" width="6" height="123.30" fill="#fff8f8"/><rect x="1152" y="936.50" width="6" height="123.30" fill="#fcfcff"/><rect x="1158" y="936.50" width="8" height="123.30" fill="#f1f1ff"/><rect x="1166" y="936.50" width="4" height="123.30" fill="#ffecec"/><rect x="1170" y="936.50" width="8" height="123.30" fill="#e8e8ff"/><rect x="1178" y="936.50" width="4" height="123.30" fill="#ffeaea"/><rect x="1182" y="936.50" width="8" height="123.30" fill="#fff5f5"/><rect x="1190" y="936.50" width="5" height="123.30" fill="#fcfcff"/><rect x="1195" y="936.50" width="6" height="123.30" fill="#e8e8ff"/><rect x="1201" y="936.50" width="3" height="123.30" fill="#fff1f1"/><rect x="1204" y="936.50" width="4" height="123.30" fill="#fdfdff"/><rect x="1208" y="936.50" width="8" height="123.30" fill="#ffe8e8"/><rect x="1216" y="936.50" width="4" height="123.30" fill="#fff5f5"/><rect x="1220" y="936.50" width="5" height="123.30" fill="#ebebff"/><rect x="1225" y="936.50" width="8" height="123.30" fill="#ffebeb"/><rect x="1233" y="936.50" width="4" height="123.30" fill="#fff6f6"/><rect x="1237" y="936.50" width="5" height="123.30" fill="#fff1f1"/><rect x="1242" y="936.50" width="4" height="123.30" fill="#fff2f2"/><rect x="1246" y="936.50" width="5" height="123.30" fill="#eaeaff"/><rect x="1251" y="936.50" width="7" height="123.30" fill="#ffe9e9"/><rect x="1258" y="936.50" width="7" height="123.30" fill="#fffefe"/><rect x="1265" y="936.50" width="5" height="123.30" fill="#fff8f8"/><rect x="1270" y="936.50" width="5" height="123.30" fill="#fff6f6"/><rect x="1275" y="936.50" width="5" height="123.30" fill="#ffe4e4"/><rect x="1280" y="936.50" width="4" height="123.30" fill="#fffbfb"/><rect x="1284" y="936.50" width="5" height="123.30" fill="#fffefe"/><rect x="1289" y="936.50" width="6" height="123.30" fill="#fff5f5"/><rect x="1295" y="936.50" width="6" height="123.30" fill="#ffeaea"/><rect x="1301" y="936.50" width="3" height="123.30" fill="#fcfcff"/><rect x="1304" y="936.50" width="8" height="123.30" fill="#ffebeb"/><rect x="1312" y="936.50" width="7" height="123.30" fill="#f4f4ff"/><rect x="1319" y="936.50" width="7" height="123.30" fill="#fdfdff"/><rect x="1326" y="936.50" width="7" height="123.30" fill="#fff9f9"/><rect x="1333" y="936.50" width="3" height="123.30" fill="#ffefef"/><rect x="1336" y="936.50" width="8" height="123.30" fill="#ffdada"/><rect x="1344" y="936.50" width="4" height="123.30" fill="#ffefef"/><rect x="1348" y="936.50" width="4" height="123.30" fill="#fff1f1"/><rect x="1352" y="936.50" width="3" height="123.30" fill="#f3f3ff"/><rect x="1355" y="936.50" width="6" height="123.30" fill="#fbfbff"/><rect x="1361" y="936.50" width="3" height="123.30" fill="#fff5f5"/><rect x="1364" y="936.50" width="7" height="123.30" fill="#fff9f9"/><rect x="1371" y="936.50" width="4" height="123.30" fill="#ececff"/><rect x="1375" y="936.50" width="6" height="123.30" fill="#eaeaff"/><rect x="1381" y="936.50" width="8" height="123.30" fill="#ffebeb"/><rect x="1389" y="936.50" width="8" height="123.30" fill="#ffebeb"/><rect x="1397" y="936.50" width="8" height="123.30" fill="#fcfcff"/><rect x="1405" y="936.50" width="4" height="123.30" fill="#fffcfc"/><rect x="1409" y="936.50" width="6" height="123.30" fill="#fffdfd"/><rect x="1415" y="936.50" width="4" height="123.30" fill="#f3f3ff"/><rect x="1419" y="936.50" width="3" height="123.30" fill="#fff4f4"/><rect x="1422" y="936.50" width="6" height="123.30" fill="#ffdede"/><rect x="1428" y="936.50" width="4" height="123.30" fill="#f7f7ff"/><rect x="1432" y="936.50" width="5" height="123.30" fill="#e7e7ff"/><rect x="1437" y="936.50" width="4" height="123.30" fill="#fefeff"/><rect x="1441" y="936.50" width="6" height="123.30" fill="#f8f8ff"/><rect x="1447" y="936.50" width="4" height="123.30" fill="#fcfcff"/><rect x="1451" y="936.50" width="6" height="123.30" fill="#fff5f5"/><rect x="1457" y="936.50" width="5" height="123.30" fill="#f1f1ff"/><rect x="1462" y="936.50" width="5" height="123.30" fill="#f3f3ff"/><rect x="1467" y="936.50" width="5" height="123.30" fill="#fff4f4"/><rect x="1472" y="936.50" width="5" height="123.30" fill="#efefff"/><rect x="1477" y="936.50" width="5" height="123.30" fill="#f6f6ff"/><rect x="1482" y="936.50" width="3" height="123.30" fill="#fffefe"/><rect x="1485" y="936.50" width="3" height="123.30" fill="#fff9f9"/><rect x="1488" y="936.50" width="5" height="123.30" fill="#f4f4ff"/><rect x="1493" y="936.50" width="6" height="123.30" fill="#e5e5ff"/><rect x="1499" y="936.50" width="6" height="123.30" fill="#fff3f3"/><rect x="1505" y="936.50" width="6" height="123.30" fill="#fff7f7"/><rect x="1511" y="936.50" width="8" height="123.30" fill="#fffafa"/><rect x="1519" y="936.50" width="5" height="123.30" fill="#fafaff"/><rect x="1524" y="936.50" width="3" height="123.30" fill="#fff0f0"/><rect x="1527" y="936.50" width="8" height="123.30" fill="#fff3f3"/><rect x="1535" y="936.50" width="4" height="123.30" fill="#fbfbff"/><rect x="1539" y="936.50" width="4" height="123.30" fill="#ffeaea"/><rect x="1543" y="936.50" width="5" height="123.30" fill="#f6f6ff"/><rect x="1548" y="936.50" width="8" height="123.30" fill="#fff2f2"/><rect x="1556" y="936.50" width="6" height="123.30" fill="#f9f9ff"/><rect x="1562" y="936.50" width="4" height="123.30" fill="#fff2f2"/><rect x="1566" y="936.50" width="7" height="123.30" fill="#e1e1ff"/><rect x="1573" y="936.50" width="8" height="123.30" fill="#e8e8ff"/><rect x="1581" y="936.50" width="4" height="123.30" fill="#ffebeb"/><rect x="1585" y="936.50" width="4" height="123.30" fill="#fff9f9"/><rect x="1589" y="936.50" width="8" height="123.30" fill="#fffdfd"/><rect x="1597" y="936.50" width="4" height="123.30" fill="#f4f4ff"/><rect x="1601" y="936.50" width="8" height="123.30" fill="#f6f6ff"/><rect x="1609" y="936.50" width="6" height="123.30" fill="#fff3f3"/><rect x="1615" y="936.50" width="3" height="123.30" fill="#ffefef"/><rect x="1618" y="936.50" width="3" height="123.30" fill="#fff6f6"/><rect x="1621" y="936.50" width="4" height="123.30" fill="#eeeeff"/><rect x="1625" y="936.50" width="4" height="123.30" fill="#eaeaff"/><rect x="1629" y="936.50" width="5" height="123.30" fill="#fff2f2"/><rect x="1634" y="936.50" width="3" height="123.30" fill="#fffdfd"/><rect x="1637" y="936.50" width="5" height="123.30" fill="#fff2f2"/><rect x="1642" y="936.50" width="6" height="123.30" fill="#fffdfd"/><rect x="1648" y="936.50" width="4" height="123.30" fill="#ffefef"/><rect x="1652" y="936.50" width="3" height="123.30" fill="#fff2f2"/><rect x="1655" y="936.50" width="8" height="123.30" fill="#fbfbff"/><rect x="1663" y="936.50" width="7" height="123.30" fill="#fff0f0"/><rect x="1670" y="936.50" width="4" height="123.30" fill="#eaeaff"/><rect x="1674" y="936.50" width="4" height="123.30" fill="#ffffff"/><rect x="1678" y="936.50" width="8" height="123.30" fill="#fffdfd"/><rect x="1686" y="936.50" width="4" height="123.30" fill="#f0f0ff"/><rect x="1690" y="936.50" width="4" height="123.30" fill="#f4f4ff"/><rect x="1694" y="936.50" width="4" height="123.30" fill="#fff1f1"/><rect x="1698" y="936.50" width="4" height="123.30" fill="#ffefef"/><rect x="1702" y="936.50" width="3" height="123.30" fill="#fafaff"/><rect x="1705" y="936.50" width="8" height="123.30" fill="#ffefef"/><rect x="1713" y="936.50" width="4" height="123.30" fill="#fff9f9"/><rect x="1717" y="936.50" width="5" height="123.30" fill="#ffffff"/><rect x="1722" y="936.50" width="5" height="123.30" fill="#fff7f7"/><rect x="1727" y="936.50" width="8" height="123.30" fill="#fffbfb"/><rect x="1735" y="936.50" width="3" height="123.30" fill="#fffbfb"/><rect x="1738" y="936.50" width="8" height="123.30" fill="#e5e5ff"/><rect x="1746" y="936.50" width="6" height="123.30" fill="#f6f6ff"/><rect x="1752" y="936.50" width="5" height="123.30" fill="#f8f8ff"/><rect x="1757" y="936.50" width="5" height="123.30" fill="#f3f3ff"/><rect x="1762" y="936.50" width="8" height="123.30" fill="#fff8f8"/><rect x="1770" y="936.50" width="5" height="123.30" fill="#f9f9ff"/><rect x="1775" y="936.50" width="5" height="123.30" fill="#e9e9ff"/><rect x="1780" y="936.50" width="5" height="123.30" fill="#fff9f9"/><rect x="1785" y="936.50" width="4" height="123.30" fill="#fcfcff"/><rect x="1789" y="936.50" width="7" height="123.30" fill="#fdfdff"/><rect x="1796" y="936.50" width="5" height="123.30" fill="#fffbfb"/><rect x="1801" y="936.50" width="7" height="123.30" fill="#ffebeb"/><rect x="1808" y="936.50" width="4" height="123.30" fill="#fff4f4"/><rect x="1812" y="936.50" width="4" height="123.30" fill="#ffebeb"/><rect x="1816" y="936.50" width="6" height="123.30" fill="#fbfbff"/><rect x="1822" y="936.50" width="4" height="123.30" fill="#fffdfd"/><rect x="1826" y="936.50" width="8" height="123.30" fill="#fff6f6"/><rect x="1834" y="936.50" width="5" height="123.30" fill="#fffdfd"/><rect x="1839" y="936.50" width="8" height="123.30" fill="#fcfcff"/><rect x="1847" y="936.50" width="4" height="123.30" fill="#ffe4e4"/><rect x="1851" y="936.50" width="4" height="123.30" fill="#fffefe"/><rect x="1855" y="936.50" width="7" height="123.30" fill="#ffefef"/><rect x="1862" y="936.50" width="7" height="123.30" fill="#fffdfd"/><rect x="1869" y="936.50" width="5" height="123.30" fill="#fefeff"/><rect x="1874" y="936.50" width="6" height="123.30" fill="#fff8f8"/><rect x="1880" y="936.50" width="3" height="123.30" fill="#fafaff"/><rect x="1883" y="936.50" width="3" height="123.30" fill="#fff0f0"/><rect x="1886" y="936.50" width="7" height="123.30" fill="#f9f9ff"/><rect x="1893" y="936.50" width="4" height="123.30" fill="#ffeded"/><rect x="1897" y="936.50" width="4" height="123.30" fill="#ffe6e6"/><rect x="1901" y="936.50" width="4" height="123.30" fill="#ffffff"/><rect x="1905" y="936.50" width="4" height="123.30" fill="#fffdfd"/><rect x="1909" y="936.50" width="4" height="123.30" fill="#fff9f9"/><rect x="1913" y="936.50" width="5" height="123.30" fill="#fffcfc"/><rect x="1918" y="936.50" width="5" height="123.30" fill="#eaeaff"/><rect x="1923" y="936.50" width="7" height="123.30" fill="#ffecec"/><rect x="1930" y="936.50" width="8" height="123.30" fill="#ffe5e5"/><rect x="1938" y="936.50" width="6" height="123.30" fill="#fff9f9"/><rect x="1944" y="936.50" width="4" height="123.30" fill="#fffafa"/><rect x="1948" y="936.50" width="7" height="123.30" fill="#fff4f4"/><rect x="1955" y="936.50" width="3" height="123.30" fill="#fbfbff"/><rect x="1958" y="936.50" width="4" height="123.30" fill="#fffbfb"/><rect x="1962" y="936.50" width="5" height="123.30" fill="#fcfcff"/><rect x="1967" y="936.50" width="4" height="123.30" fill="#fffdfd"/><rect x="1971" y="936.50" width="3" height="123.30" fill="#fff6f6"/><rect x="1974" y="936.50" width="6" height="123.30" fill="#ffefef"/><rect x="1980" y="936.50" width="5" height="123.30" fill="#fffdfd"/><rect x="1985" y="936.50" width="4" height="123.30" fill="#ffe9e9"/><rect x="1989" y="936.50" width="4" height="123.30" fill="#fff7f7"/><rect x="1993" y="936.50" width="4" height="123.30" fill="#fffdfd"/><rect x="1997" y="936.50" width="5" height="123.30" fill="#fff4f4"/><rect x="2002" y="936.50" width="5" height="123.30" fill="#f9f9ff"/><rect x="2007" y="936.50" width="8" height="123.30" fill="#fffefe"/><rect x="2015" y="936.50" width="4" height="123.30" fill="#ffffff"/><rect x="2019" y="936.50" width="5" height="123.30" fill="#ffe6e6"/><rect x="2024" y="936.50" width="3" height="123.30" fill="#ffe8e8"/><rect x="2027" y="936.50" width="5" height="123.30" fill="#fffafa"/><rect x="2032" y="936.50" width="8" height="123.30" fill="#fffcfc"/><rect x="2040" y="936.50" width="7" height="123.30" fill="#ffefef"/><rect x="2047" y="936.50" width="8" height="123.30" fill="#e8e8ff"/><rect x="2055" y="936.50" width="5" height="123.30" fill="#fafaff"/><rect x="2060" y="936.50" width="5" height="123.30" fill="#fff1f1"/><rect x="2065" y="936.50" width="4" height="123.30" fill="#fffefe"/><rect x="2069" y="936.50" width="7" height="123.30" fill="#ffd8d8"/><rect x="2076" y="936.50" width="4" height="123.30" fill="#ffffff"/><rect x="2080" y="936.50" width="3" height="123.30" fill="#ffeaea"/><rect x="2083" y="936.50" width="5" height="123.30" fill="#fff3f3"/><rect x="2088" y="936.50" width="7" height="123.30" fill="#fffafa"/><rect x="2095" y="936.50" width="7" height="123.30" fill="#fff8f8"/><rect x="2102" y="936.50" width="5" height="123.30" fill="#f2f2ff"/><rect x="2107" y="936.50" width="3" height="123.30" fill="#f6f6ff"/><rect x="2110" y="936.50" width="8" height="123.30" fill="#fff8f8"/><rect x="207" y="936.50" width="11" height="123.30" fill="#e0e0ff"/><rect x="218" y="936.50" width="14" height="123.30" fill="#ffb8b8"/><rect x="232" y="936.50" width="18" height="123.30" fill="#c0c0ff"/><rect x="250" y="936.50" width="20" height="123.30" fill="#ffe4e4"/><rect x="270" y="936.50" width="6" height="123.30" fill="#d0d0ff"/><rect x="276" y="936.50" width="4" height="123.30" fill="#ffffff"/><rect x="280" y="936.50" width="8" height="123.30" fill="#ffd0d0"/><rect x="288" y="936.50" width="6" height="123.30" fill="#d8d8ff"/><rect x="294" y="936.50" width="14" height="123.30" fill="#fff4f4"/><rect x="308" y="936.50" width="10" height="123.30" fill="#ffd8d8"/><rect x="318" y="936.50" width="6" height="123.30" fill="#c0c0ff"/><rect x="324" y="936.50" width="10" height="123.30" fill="#ffb0b0"/><rect x="334" y="936.50" width="6" height="123.30" fill="#c0c0ff"/><rect x="340" y="936.50" width="4" height="123.30" fill="#ffffff"/><rect x="344" y="936.50" width="6" height="123.30" fill="#ffaaaa"/><rect x="350" y="936.50" width="8" height="123.30" fill="#ffffff"/><rect x="358" y="936.50" width="4" height="123.30" fill="#b0b0ff"/><rect x="362" y="936.50" width="6" height="123.30" fill="#ffffff"/><rect x="368" y="936.50" width="6" height="123.30" fill="#ffc0c0"/><rect x="374" y="936.50" width="4" height="123.30" fill="#ffffff"/><rect x="378" y="936.50" width="6" height="123.30" fill="#a8a8ff"/><rect x="384" y="936.50" width="4" height="123.30" fill="#ffffff"/><rect x="388" y="936.50" width="8" height="123.30" fill="#ff9898"/><rect x="396" y="936.50" width="4" height="123.30" fill="#ffffff"/><rect x="400" y="936.50" width="6" height="123.30" fill="#9c9cff"/><rect x="406" y="936.50" width="6" height="123.30" fill="#ffffff"/><rect x="412" y="936.50" width="8" height="123.30" fill="#ffb4b4"/><rect x="420" y="936.50" width="6" height="123.30" fill="#ffffff"/><rect x="426" y="936.50" width="6" height="123.30" fill="#b8b8ff"/><rect x="432" y="936.50" width="10" height="123.30" fill="#ffffff"/><rect x="442" y="936.50" width="13" height="123.30" fill="#ffb4b4"/><rect x="455" y="936.50" width="6" height="123.30" fill="#a8a8ff"/><rect x="461" y="936.50" width="6" height="123.30" fill="#ffffff"/><rect x="467" y="936.50" width="10" height="123.30" fill="#ffa8a8"/><rect x="477" y="936.50" width="4" height="123.30" fill="#ffffff"/><rect x="481" y="936.50" width="6" height="123.30" fill="#a0a0ff"/><rect x="487" y="936.50" width="8" height="123.30" fill="#ffffff"/><rect x="495" y="936.50" width="12" height="123.30" fill="#ffc0c0"/><rect x="507" y="936.50" width="20" height="123.30" fill="#fff4f4"/><rect x="527" y="936.50" width="14" height="123.30" fill="#c8c8ff"/><rect x="541" y="936.50" width="4" height="123.30" fill="#ffffff"/><rect x="545" y="936.50" width="8" height="123.30" fill="#ffb0b0"/><rect x="553" y="936.50" width="48" height="123.30" fill="#fffafa"/><rect x="601" y="936.50" width="8" height="123.30" fill="#f0f0ff"/><rect x="609" y="936.50" width="52" height="123.30" fill="#fff8f8"/><rect x="661" y="936.50" width="10" height="123.30" fill="#c8c8ff"/><rect x="671" y="936.50" width="4" height="123.30" fill="#ffffff"/><rect x="675" y="936.50" width="8" height="123.30" fill="#ffc0c0"/><rect x="683" y="936.50" width="3" height="123.30" fill="#ffffff"/><rect x="686" y="936.50" width="24" height="123.30" fill="#ececff"/><rect x="710" y="936.50" width="12" height="123.30" fill="#fff4f4"/><rect x="722" y="936.50" width="14" height="123.30" fill="#f6f6ff"/><rect x="736" y="936.50" width="26" height="123.30" fill="#fff0f0"/><rect x="762" y="936.50" width="6" height="123.30" fill="#c8c8ff"/><rect x="768" y="936.50" width="8" height="123.30" fill="#ffffff"/><rect x="776" y="936.50" width="8" height="123.30" fill="#ffb0b0"/><rect x="784" y="936.50" width="8" height="123.30" fill="#ffffff"/><rect x="792" y="936.50" width="34" height="123.30" fill="#f8f8ff"/><rect x="826" y="936.50" width="10" height="123.30" fill="#c8c8ff"/><rect x="836" y="936.50" width="8" height="123.30" fill="#ffffff"/><rect x="844" y="936.50" width="10" height="123.30" fill="#ffb0b0"/><rect x="854" y="936.50" width="6" height="123.30" fill="#ffffff"/><rect x="860" y="936.50" width="12" height="123.30" fill="#8080ff"/><rect x="872" y="936.50" width="4" height="123.30" fill="#ffffff"/><rect x="876" y="936.50" width="23" height="123.30" fill="#ffbcbc"/><rect x="899" y="936.50" width="4" height="123.30" fill="#ffffff"/><rect x="903" y="936.50" width="6" height="123.30" fill="#d0d0ff"/><rect x="909" y="936.50" width="6" height="123.30" fill="#ffffff"/><rect x="915" y="936.50" width="10" height="123.30" fill="#ffd4d4"/><rect x="925" y="936.50" width="8" height="123.30" fill="#c0c0ff"/><rect x="933" y="936.50" width="4" height="123.30" fill="#ffffff"/><rect x="937" y="936.50" width="6" height="123.30" fill="#ffc4c4"/><rect x="943" y="936.50" width="6" height="123.30" fill="#c8c8ff"/><rect x="949" y="936.50" width="8" height="123.30" fill="#ffffff"/><rect x="957" y="936.50" width="6" height="123.30" fill="#ffc8c8"/><rect x="963" y="936.50" width="24" height="123.30" fill="#f0f0ff"/><rect x="1059" y="936.50" width="4" height="123.30" fill="#e0e0ff"/><rect x="1063" y="936.50" width="4" height="123.30" fill="#ffe0e0"/><rect x="1073" y="936.50" width="4" height="123.30" fill="#ffe0e0"/><rect x="1079" y="936.50" width="4" height="123.30" fill="#e0e0ff"/><rect x="1083" y="936.50" width="4" height="123.30" fill="#ffe0e0"/><rect x="1141" y="936.50" width="12" height="123.30" fill="#ffc4c4"/><rect x="1153" y="936.50" width="8" height="123.30" fill="#c0c0ff"/><rect x="1161" y="936.50" width="9" height="123.30" fill="#ffc0c0"/><rect x="1170" y="936.50" width="6" height="123.30" fill="#ffffff"/><rect x="1176" y="936.50" width="6" height="123.30" fill="#c8c8ff"/><rect x="1182" y="936.50" width="4" height="123.30" fill="#ffffff"/><rect x="1186" y="936.50" width="8" height="123.30" fill="#ffd0d0"/><rect x="1210" y="936.50" width="6" height="123.30" fill="#e0e0ff"/><rect x="1218" y="936.50" width="8" height="123.30" fill="#ffc4c4"/><rect x="1228" y="936.50" width="6" height="123.30" fill="#d0d0ff"/><rect x="1284" y="936.50" width="12" height="123.30" fill="#ffe4e4"/><rect x="1302" y="936.50" width="8" height="123.30" fill="#e0e0ff"/><rect x="1314" y="936.50" width="8" height="123.30" fill="#ffc8c8"/><rect x="1326" y="936.50" width="6" height="123.30" fill="#e0e0ff"/><rect x="1334" y="936.50" width="10" height="123.30" fill="#ffe4e4"/><rect x="1350" y="936.50" width="8" height="123.30" fill="#ffd0d0"/><rect x="1360" y="936.50" width="6" height="123.30" fill="#c8c8ff"/><rect x="1368" y="936.50" width="8" height="123.30" fill="#ffc4c4"/><rect x="1378" y="936.50" width="8" height="123.30" fill="#f0f0ff"/><rect x="1388" y="936.50" width="8" height="123.30" fill="#ffe4e4"/><rect x="1398" y="936.50" width="4" height="123.30" fill="#e0e0ff"/><rect x="1404" y="936.50" width="11" height="123.30" fill="#ffe4e4"/><rect x="1417" y="936.50" width="16" height="123.30" fill="#f0f0ff"/><rect x="1435" y="936.50" width="8" height="123.30" fill="#ffd0d0"/><rect x="1445" y="936.50" width="6" height="123.30" fill="#d0d0ff"/><rect x="1453" y="936.50" width="10" height="123.30" fill="#ffd4d4"/><rect x="1465" y="936.50" width="4" height="123.30" fill="#e0e0ff"/><rect x="1469" y="936.50" width="36" height="123.30" fill="#fff0f0"/><rect x="1505" y="936.50" width="36" height="123.30" fill="#ececff"/><rect x="1541" y="936.50" width="10" height="123.30" fill="#ffc8c8"/><rect x="1557" y="936.50" width="8" height="123.30" fill="#c8c8ff"/><rect x="1569" y="936.50" width="8" height="123.30" fill="#ffc8c8"/><rect x="1581" y="936.50" width="10" height="123.30" fill="#ffe0e0"/><rect x="1595" y="936.50" width="10" height="123.30" fill="#b8b8ff"/><rect x="1615" y="936.50" width="14" height="123.30" fill="#ffcccc"/><rect x="1629" y="936.50" width="11" height="123.30" fill="#f8f0ff"/><rect x="1640" y="936.50" width="30" height="123.30" fill="#f4f4ff"/><rect x="1672" y="936.50" width="8" height="123.30" fill="#ffdcdc"/><rect x="1684" y="936.50" width="6" height="123.30" fill="#d8d8ff"/><rect x="1694" y="936.50" width="8" height="123.30" fill="#ffd0d0"/><rect x="1708" y="936.50" width="8" height="123.30" fill="#c0c0ff"/><rect x="1724" y="936.50" width="10" height="123.30" fill="#ffa0a0"/><rect x="1738" y="936.50" width="8" height="123.30" fill="#b0b0ff"/><rect x="1752" y="936.50" width="10" height="123.30" fill="#ffc0c0"/><rect x="1828" y="936.50" width="8" height="123.30" fill="#ffe0e0"/><rect x="1856" y="936.50" width="8" height="123.30" fill="#ffdcdc"/><rect x="1870" y="936.50" width="8" height="123.30" fill="#dcdcff"/><rect x="1885" y="936.50" width="8" height="123.30" fill="#ffd0d0"/><rect x="2017" y="936.50" width="10" height="123.30" fill="#ffdcdc"/><rect x="2029" y="936.50" width="10" height="123.30" fill="#b8b8ff"/><rect x="2045" y="936.50" width="10" height="123.30" fill="#ffa0a0"/><rect x="2061" y="936.50" width="8" height="123.30" fill="#d0d0ff"/><rect x="2075" y="936.50" width="16" height="123.30" fill="#ffd0d0"/><rect x="2093" y="936.50" width="16" height="123.30" fill="#dcdcff"/><rect x="207" y="1059.80" width="1911" height="123.70" fill="#fbf6fa"/><rect x="521" y="1059.80" width="3" height="123.70" fill="#fff1f1"/><rect x="524" y="1059.80" width="5" height="123.70" fill="#f9f9ff"/><rect x="529" y="1059.80" width="6" height="123.70" fill="#fff2f2"/><rect x="535" y="1059.80" width="5" height="123.70" fill="#ffdede"/><rect x="540" y="1059.80" width="5" height="123.70" fill="#fff6f6"/><rect x="545" y="1059.80" width="6" height="123.70" fill="#fff7f7"/><rect x="551" y="1059.80" width="4" height="123.70" fill="#fff0f0"/><rect x="555" y="1059.80" width="8" height="123.70" fill="#fefeff"/><rect x="563" y="1059.80" width="5" height="123.70" fill="#ffe6e6"/><rect x="568" y="1059.80" width="3" height="123.70" fill="#ffe5e5"/><rect x="571" y="1059.80" width="4" height="123.70" fill="#ffeded"/><rect x="575" y="1059.80" width="7" height="123.70" fill="#f4f4ff"/><rect x="582" y="1059.80" width="5" height="123.70" fill="#fafaff"/><rect x="587" y="1059.80" width="5" height="123.70" fill="#fdfdff"/><rect x="592" y="1059.80" width="4" height="123.70" fill="#fdfdff"/><rect x="596" y="1059.80" width="7" height="123.70" fill="#fffafa"/><rect x="603" y="1059.80" width="8" height="123.70" fill="#e9e9ff"/><rect x="611" y="1059.80" width="4" height="123.70" fill="#fdfdff"/><rect x="615" y="1059.80" width="4" height="123.70" fill="#ffe8e8"/><rect x="619" y="1059.80" width="3" height="123.70" fill="#fff1f1"/><rect x="622" y="1059.80" width="7" height="123.70" fill="#ececff"/><rect x="629" y="1059.80" width="4" height="123.70" fill="#ffe7e7"/><rect x="633" y="1059.80" width="3" height="123.70" fill="#f4f4ff"/><rect x="636" y="1059.80" width="5" height="123.70" fill="#fff9f9"/><rect x="641" y="1059.80" width="6" height="123.70" fill="#fffafa"/><rect x="647" y="1059.80" width="4" height="123.70" fill="#f6f6ff"/><rect x="651" y="1059.80" width="3" height="123.70" fill="#fff1f1"/><rect x="654" y="1059.80" width="3" height="123.70" fill="#f1f1ff"/><rect x="657" y="1059.80" width="8" height="123.70" fill="#f1f1ff"/><rect x="665" y="1059.80" width="5" height="123.70" fill="#ffe1e1"/><rect x="670" y="1059.80" width="4" height="123.70" fill="#fffcfc"/><rect x="674" y="1059.80" width="4" height="123.70" fill="#fffdfd"/><rect x="678" y="1059.80" width="4" height="123.70" fill="#f0f0ff"/><rect x="682" y="1059.80" width="5" height="123.70" fill="#fffafa"/><rect x="687" y="1059.80" width="5" height="123.70" fill="#ffe3e3"/><rect x="692" y="1059.80" width="8" height="123.70" fill="#f3f3ff"/><rect x="700" y="1059.80" width="8" height="123.70" fill="#fffcfc"/><rect x="708" y="1059.80" width="5" height="123.70" fill="#fffafa"/><rect x="713" y="1059.80" width="5" height="123.70" fill="#ececff"/><rect x="718" y="1059.80" width="4" height="123.70" fill="#f6f6ff"/><rect x="722" y="1059.80" width="5" height="123.70" fill="#f9f9ff"/><rect x="727" y="1059.80" width="4" height="123.70" fill="#fff7f7"/><rect x="731" y="1059.80" width="5" height="123.70" fill="#fffcfc"/><rect x="736" y="1059.80" width="4" height="123.70" fill="#f9f9ff"/><rect x="740" y="1059.80" width="5" height="123.70" fill="#ececff"/><rect x="745" y="1059.80" width="5" height="123.70" fill="#f1f1ff"/><rect x="750" y="1059.80" width="4" height="123.70" fill="#fff9f9"/><rect x="754" y="1059.80" width="5" height="123.70" fill="#ffffff"/><rect x="759" y="1059.80" width="8" height="123.70" fill="#fff6f6"/><rect x="767" y="1059.80" width="3" height="123.70" fill="#fffefe"/><rect x="770" y="1059.80" width="8" height="123.70" fill="#fff7f7"/><rect x="778" y="1059.80" width="5" height="123.70" fill="#e8e8ff"/><rect x="783" y="1059.80" width="5" height="123.70" fill="#ffe6e6"/><rect x="788" y="1059.80" width="4" height="123.70" fill="#fafaff"/><rect x="792" y="1059.80" width="5" height="123.70" fill="#fdfdff"/><rect x="797" y="1059.80" width="6" height="123.70" fill="#ffe9e9"/><rect x="803" y="1059.80" width="5" height="123.70" fill="#ffe7e7"/><rect x="808" y="1059.80" width="4" height="123.70" fill="#fefeff"/><rect x="812" y="1059.80" width="8" height="123.70" fill="#f7f7ff"/><rect x="820" y="1059.80" width="7" height="123.70" fill="#fffbfb"/><rect x="827" y="1059.80" width="8" height="123.70" fill="#fffcfc"/><rect x="835" y="1059.80" width="8" height="123.70" fill="#ededff"/><rect x="843" y="1059.80" width="7" height="123.70" fill="#ffefef"/><rect x="850" y="1059.80" width="6" height="123.70" fill="#fcfcff"/><rect x="856" y="1059.80" width="6" height="123.70" fill="#fff7f7"/><rect x="862" y="1059.80" width="3" height="123.70" fill="#fbfbff"/><rect x="865" y="1059.80" width="7" height="123.70" fill="#fff0f0"/><rect x="872" y="1059.80" width="4" height="123.70" fill="#fff3f3"/><rect x="876" y="1059.80" width="3" height="123.70" fill="#fefeff"/><rect x="879" y="1059.80" width="1" height="123.70" fill="#fffdfd"/><rect x="975" y="1059.80" width="7" height="123.70" fill="#fff8f8"/><rect x="982" y="1059.80" width="4" height="123.70" fill="#ebebff"/><rect x="986" y="1059.80" width="5" height="123.70" fill="#ffeded"/><rect x="991" y="1059.80" width="3" height="123.70" fill="#fbfbff"/><rect x="994" y="1059.80" width="5" height="123.70" fill="#fff9f9"/><rect x="999" y="1059.80" width="4" height="123.70" fill="#fdfdff"/><rect x="1003" y="1059.80" width="6" height="123.70" fill="#ffeeee"/><rect x="1009" y="1059.80" width="5" height="123.70" fill="#fffbfb"/><rect x="1014" y="1059.80" width="7" height="123.70" fill="#d0d0ff"/><rect x="1021" y="1059.80" width="3" height="123.70" fill="#fff4f4"/><rect x="1024" y="1059.80" width="5" height="123.70" fill="#dbdbff"/><rect x="1029" y="1059.80" width="4" height="123.70" fill="#ffdada"/><rect x="1033" y="1059.80" width="8" height="123.70" fill="#fff5f5"/><rect x="1041" y="1059.80" width="4" height="123.70" fill="#f0f0ff"/><rect x="1045" y="1059.80" width="3" height="123.70" fill="#ececff"/><rect x="1048" y="1059.80" width="4" height="123.70" fill="#fff5f5"/><rect x="1052" y="1059.80" width="5" height="123.70" fill="#ffeaea"/><rect x="1057" y="1059.80" width="5" height="123.70" fill="#fbfbff"/><rect x="1062" y="1059.80" width="5" height="123.70" fill="#ffd8d8"/><rect x="1067" y="1059.80" width="7" height="123.70" fill="#f0f0ff"/><rect x="1074" y="1059.80" width="7" height="123.70" fill="#ebebff"/><rect x="1081" y="1059.80" width="4" height="123.70" fill="#fffafa"/><rect x="1085" y="1059.80" width="5" height="123.70" fill="#fff4f4"/><rect x="1090" y="1059.80" width="8" height="123.70" fill="#e2e2ff"/><rect x="1098" y="1059.80" width="6" height="123.70" fill="#f4f4ff"/><rect x="1104" y="1059.80" width="8" height="123.70" fill="#e0e0ff"/><rect x="1112" y="1059.80" width="5" height="123.70" fill="#fff3f3"/><rect x="1117" y="1059.80" width="4" height="123.70" fill="#fff3f3"/><rect x="1121" y="1059.80" width="6" height="123.70" fill="#ffe5e5"/><rect x="1127" y="1059.80" width="5" height="123.70" fill="#ddddff"/><rect x="1132" y="1059.80" width="5" height="123.70" fill="#ffdfdf"/><rect x="1137" y="1059.80" width="3" height="123.70" fill="#fcfcff"/><rect x="1140" y="1059.80" width="7" height="123.70" fill="#e2e2ff"/><rect x="1147" y="1059.80" width="5" height="123.70" fill="#ececff"/><rect x="1152" y="1059.80" width="3" height="123.70" fill="#fff1f1"/><rect x="1155" y="1059.80" width="8" height="123.70" fill="#f1f1ff"/><rect x="1163" y="1059.80" width="4" height="123.70" fill="#ffc0c0"/><rect x="1167" y="1059.80" width="5" height="123.70" fill="#ffd4d4"/><rect x="1172" y="1059.80" width="7" height="123.70" fill="#ffe4e4"/><rect x="1179" y="1059.80" width="7" height="123.70" fill="#ececff"/><rect x="1186" y="1059.80" width="5" height="123.70" fill="#e7e7ff"/><rect x="1191" y="1059.80" width="3" height="123.70" fill="#ffefef"/><rect x="1194" y="1059.80" width="8" height="123.70" fill="#ffeeee"/><rect x="1202" y="1059.80" width="8" height="123.70" fill="#ffe8e8"/><rect x="1210" y="1059.80" width="8" height="123.70" fill="#fcfcff"/><rect x="1218" y="1059.80" width="8" height="123.70" fill="#fdfdff"/><rect x="1226" y="1059.80" width="4" height="123.70" fill="#fff5f5"/><rect x="1230" y="1059.80" width="4" height="123.70" fill="#d6d6ff"/><rect x="1234" y="1059.80" width="8" height="123.70" fill="#f7f7ff"/><rect x="1242" y="1059.80" width="4" height="123.70" fill="#f6f6ff"/><rect x="1246" y="1059.80" width="4" height="123.70" fill="#fafaff"/><rect x="1250" y="1059.80" width="5" height="123.70" fill="#f6f6ff"/><rect x="1255" y="1059.80" width="5" height="123.70" fill="#f9f9ff"/><rect x="1260" y="1059.80" width="4" height="123.70" fill="#e7e7ff"/><rect x="1264" y="1059.80" width="7" height="123.70" fill="#e6e6ff"/><rect x="1271" y="1059.80" width="4" height="123.70" fill="#fff0f0"/><rect x="1275" y="1059.80" width="5" height="123.70" fill="#fff5f5"/><rect x="1280" y="1059.80" width="7" height="123.70" fill="#f9f9ff"/><rect x="1287" y="1059.80" width="3" height="123.70" fill="#ffd5d5"/><rect x="1290" y="1059.80" width="3" height="123.70" fill="#a9a9ff"/><rect x="1293" y="1059.80" width="5" height="123.70" fill="#e9e9ff"/><rect x="1298" y="1059.80" width="6" height="123.70" fill="#dcdcff"/><rect x="1304" y="1059.80" width="8" height="123.70" fill="#d3d3ff"/><rect x="1312" y="1059.80" width="5" height="123.70" fill="#f7f7ff"/><rect x="1317" y="1059.80" width="7" height="123.70" fill="#fbfbff"/><rect x="1324" y="1059.80" width="5" height="123.70" fill="#fff2f2"/><rect x="1329" y="1059.80" width="7" height="123.70" fill="#fffcfc"/><rect x="1336" y="1059.80" width="4" height="123.70" fill="#fbfbff"/><rect x="1340" y="1059.80" width="6" height="123.70" fill="#ffdcdc"/><rect x="1346" y="1059.80" width="5" height="123.70" fill="#d5d5ff"/><rect x="1351" y="1059.80" width="7" height="123.70" fill="#fefeff"/><rect x="1358" y="1059.80" width="6" height="123.70" fill="#f5f5ff"/><rect x="1364" y="1059.80" width="5" height="123.70" fill="#ededff"/><rect x="1369" y="1059.80" width="4" height="123.70" fill="#ffefef"/><rect x="1373" y="1059.80" width="5" height="123.70" fill="#ffc1c1"/><rect x="1378" y="1059.80" width="5" height="123.70" fill="#ffffff"/><rect x="1383" y="1059.80" width="5" height="123.70" fill="#fff0f0"/><rect x="1388" y="1059.80" width="4" height="123.70" fill="#ffe5e5"/><rect x="1392" y="1059.80" width="4" height="123.70" fill="#f4f4ff"/><rect x="1396" y="1059.80" width="5" height="123.70" fill="#c5c5ff"/><rect x="1401" y="1059.80" width="3" height="123.70" fill="#fffcfc"/><rect x="1404" y="1059.80" width="4" height="123.70" fill="#fffafa"/><rect x="1408" y="1059.80" width="3" height="123.70" fill="#f8f8ff"/><rect x="1411" y="1059.80" width="4" height="123.70" fill="#dadaff"/><rect x="1415" y="1059.80" width="4" height="123.70" fill="#ffeded"/><rect x="1419" y="1059.80" width="7" height="123.70" fill="#d6d6ff"/><rect x="1426" y="1059.80" width="6" height="123.70" fill="#fff5f5"/><rect x="1432" y="1059.80" width="4" height="123.70" fill="#ffc6c6"/><rect x="1436" y="1059.80" width="6" height="123.70" fill="#fcfcff"/><rect x="1442" y="1059.80" width="5" height="123.70" fill="#ffeaea"/><rect x="1447" y="1059.80" width="8" height="123.70" fill="#ffcbcb"/><rect x="1455" y="1059.80" width="3" height="123.70" fill="#ededff"/><rect x="1458" y="1059.80" width="6" height="123.70" fill="#ffdcdc"/><rect x="1464" y="1059.80" width="6" height="123.70" fill="#f1f1ff"/><rect x="1470" y="1059.80" width="4" height="123.70" fill="#fffdfd"/><rect x="1474" y="1059.80" width="5" height="123.70" fill="#ffeaea"/><rect x="1479" y="1059.80" width="4" height="123.70" fill="#fff5f5"/><rect x="1483" y="1059.80" width="5" height="123.70" fill="#ddddff"/><rect x="1488" y="1059.80" width="5" height="123.70" fill="#ffe4e4"/><rect x="1493" y="1059.80" width="7" height="123.70" fill="#ffe0e0"/><rect x="1500" y="1059.80" width="5" height="123.70" fill="#ffeded"/><rect x="1505" y="1059.80" width="6" height="123.70" fill="#e2e2ff"/><rect x="1511" y="1059.80" width="6" height="123.70" fill="#f5f5ff"/><rect x="1517" y="1059.80" width="6" height="123.70" fill="#fafaff"/><rect x="1523" y="1059.80" width="7" height="123.70" fill="#e0e0ff"/><rect x="1530" y="1059.80" width="5" height="123.70" fill="#fff1f1"/><rect x="1535" y="1059.80" width="3" height="123.70" fill="#d4d4ff"/><rect x="1538" y="1059.80" width="7" height="123.70" fill="#fff9f9"/><rect x="1545" y="1059.80" width="3" height="123.70" fill="#fefeff"/><rect x="1548" y="1059.80" width="5" height="123.70" fill="#fffefe"/><rect x="1553" y="1059.80" width="6" height="123.70" fill="#fff9f9"/><rect x="1559" y="1059.80" width="6" height="123.70" fill="#f3f3ff"/><rect x="1565" y="1059.80" width="3" height="123.70" fill="#ffc2c2"/><rect x="1568" y="1059.80" width="5" height="123.70" fill="#fcfcff"/><rect x="1573" y="1059.80" width="5" height="123.70" fill="#d5d5ff"/><rect x="1578" y="1059.80" width="5" height="123.70" fill="#ffd7d7"/><rect x="1583" y="1059.80" width="4" height="123.70" fill="#fdfdff"/><rect x="1587" y="1059.80" width="3" height="123.70" fill="#fffcfc"/><rect x="1590" y="1059.80" width="8" height="123.70" fill="#f2f2ff"/><rect x="1598" y="1059.80" width="7" height="123.70" fill="#fff4f4"/><rect x="1605" y="1059.80" width="8" height="123.70" fill="#c6c6ff"/><rect x="1613" y="1059.80" width="4" height="123.70" fill="#fff3f3"/><rect x="1617" y="1059.80" width="5" height="123.70" fill="#f5f5ff"/><rect x="1622" y="1059.80" width="4" height="123.70" fill="#ebebff"/><rect x="1626" y="1059.80" width="6" height="123.70" fill="#eeeeff"/><rect x="1632" y="1059.80" width="8" height="123.70" fill="#e0e0ff"/><rect x="1640" y="1059.80" width="4" height="123.70" fill="#ffe0e0"/><rect x="1644" y="1059.80" width="5" height="123.70" fill="#f1f1ff"/><rect x="1649" y="1059.80" width="7" height="123.70" fill="#fff8f8"/><rect x="1656" y="1059.80" width="4" height="123.70" fill="#ebebff"/><rect x="1660" y="1059.80" width="6" height="123.70" fill="#e5e5ff"/><rect x="1666" y="1059.80" width="4" height="123.70" fill="#ffcdcd"/><rect x="1670" y="1059.80" width="4" height="123.70" fill="#f6f6ff"/><rect x="1674" y="1059.80" width="5" height="123.70" fill="#f0f0ff"/><rect x="1679" y="1059.80" width="7" height="123.70" fill="#f0f0ff"/><rect x="1686" y="1059.80" width="8" height="123.70" fill="#ffbdbd"/><rect x="1694" y="1059.80" width="4" height="123.70" fill="#f7f7ff"/><rect x="1698" y="1059.80" width="5" height="123.70" fill="#ffefef"/><rect x="1703" y="1059.80" width="5" height="123.70" fill="#ffeded"/><rect x="1708" y="1059.80" width="4" height="123.70" fill="#fffefe"/><rect x="1712" y="1059.80" width="5" height="123.70" fill="#e8e8ff"/><rect x="1717" y="1059.80" width="5" height="123.70" fill="#dfdfff"/><rect x="1722" y="1059.80" width="5" height="123.70" fill="#ffe4e4"/><rect x="1727" y="1059.80" width="8" height="123.70" fill="#fdfdff"/><rect x="1735" y="1059.80" width="4" height="123.70" fill="#ffeeee"/><rect x="1739" y="1059.80" width="5" height="123.70" fill="#ffe9e9"/><rect x="1744" y="1059.80" width="6" height="123.70" fill="#e6e6ff"/><rect x="1750" y="1059.80" width="4" height="123.70" fill="#bdbdff"/><rect x="1754" y="1059.80" width="5" height="123.70" fill="#ffd1d1"/><rect x="1759" y="1059.80" width="4" height="123.70" fill="#d0d0ff"/><rect x="1763" y="1059.80" width="4" height="123.70" fill="#bcbcff"/><rect x="1767" y="1059.80" width="3" height="123.70" fill="#ceceff"/><rect x="1770" y="1059.80" width="8" height="123.70" fill="#fffafa"/><rect x="1778" y="1059.80" width="6" height="123.70" fill="#ffeded"/><rect x="1784" y="1059.80" width="4" height="123.70" fill="#fffcfc"/><rect x="1788" y="1059.80" width="3" height="123.70" fill="#ffe8e8"/><rect x="1791" y="1059.80" width="5" height="123.70" fill="#ffc2c2"/><rect x="1796" y="1059.80" width="4" height="123.70" fill="#d9d9ff"/><rect x="1800" y="1059.80" width="8" height="123.70" fill="#ffdddd"/><rect x="1808" y="1059.80" width="5" height="123.70" fill="#fffcfc"/><rect x="1813" y="1059.80" width="3" height="123.70" fill="#d7d7ff"/><rect x="1816" y="1059.80" width="4" height="123.70" fill="#e2e2ff"/><rect x="1820" y="1059.80" width="6" height="123.70" fill="#dedeff"/><rect x="1826" y="1059.80" width="5" height="123.70" fill="#ffebeb"/><rect x="1831" y="1059.80" width="3" height="123.70" fill="#fffcfc"/><rect x="1834" y="1059.80" width="5" height="123.70" fill="#fffafa"/><rect x="1839" y="1059.80" width="5" height="123.70" fill="#fcfcff"/><rect x="1844" y="1059.80" width="3" height="123.70" fill="#fff7f7"/><rect x="1847" y="1059.80" width="6" height="123.70" fill="#e5e5ff"/><rect x="1853" y="1059.80" width="4" height="123.70" fill="#f5f5ff"/><rect x="1857" y="1059.80" width="3" height="123.70" fill="#f5f5ff"/><rect x="1860" y="1059.80" width="8" height="123.70" fill="#f4f4ff"/><rect x="1868" y="1059.80" width="4" height="123.70" fill="#fafaff"/><rect x="1872" y="1059.80" width="7" height="123.70" fill="#f5f5ff"/><rect x="1879" y="1059.80" width="4" height="123.70" fill="#f0f0ff"/><rect x="1883" y="1059.80" width="4" height="123.70" fill="#ececff"/><rect x="1887" y="1059.80" width="5" height="123.70" fill="#fff5f5"/><rect x="1892" y="1059.80" width="5" height="123.70" fill="#f5f5ff"/><rect x="1897" y="1059.80" width="6" height="123.70" fill="#fffdfd"/><rect x="1903" y="1059.80" width="7" height="123.70" fill="#d0d0ff"/><rect x="1910" y="1059.80" width="6" height="123.70" fill="#ffe8e8"/><rect x="1916" y="1059.80" width="5" height="123.70" fill="#e8e8ff"/><rect x="1921" y="1059.80" width="3" height="123.70" fill="#fff1f1"/><rect x="1924" y="1059.80" width="7" height="123.70" fill="#ffecec"/><rect x="1931" y="1059.80" width="4" height="123.70" fill="#ededff"/><rect x="1935" y="1059.80" width="7" height="123.70" fill="#e7e7ff"/><rect x="1942" y="1059.80" width="4" height="123.70" fill="#f1f1ff"/><rect x="1946" y="1059.80" width="4" height="123.70" fill="#ffe1e1"/><rect x="1950" y="1059.80" width="7" height="123.70" fill="#ffffff"/><rect x="1957" y="1059.80" width="4" height="123.70" fill="#c8c8ff"/><rect x="1961" y="1059.80" width="4" height="123.70" fill="#e3e3ff"/><rect x="1965" y="1059.80" width="4" height="123.70" fill="#f4f4ff"/><rect x="1969" y="1059.80" width="4" height="123.70" fill="#fff5f5"/><rect x="1973" y="1059.80" width="4" height="123.70" fill="#ffebeb"/><rect x="1977" y="1059.80" width="5" height="123.70" fill="#ffefef"/><rect x="1982" y="1059.80" width="5" height="123.70" fill="#ffd7d7"/><rect x="1987" y="1059.80" width="8" height="123.70" fill="#ffd6d6"/><rect x="1995" y="1059.80" width="6" height="123.70" fill="#ffcbcb"/><rect x="2001" y="1059.80" width="7" height="123.70" fill="#ffeeee"/><rect x="2008" y="1059.80" width="4" height="123.70" fill="#ffe4e4"/><rect x="2012" y="1059.80" width="4" height="123.70" fill="#e8e8ff"/><rect x="2016" y="1059.80" width="5" height="123.70" fill="#e3e3ff"/><rect x="2021" y="1059.80" width="5" height="123.70" fill="#e4e4ff"/><rect x="2026" y="1059.80" width="8" height="123.70" fill="#fffafa"/><rect x="2034" y="1059.80" width="7" height="123.70" fill="#fff1f1"/><rect x="2041" y="1059.80" width="4" height="123.70" fill="#f3f3ff"/><rect x="2045" y="1059.80" width="5" height="123.70" fill="#fff9f9"/><rect x="2050" y="1059.80" width="5" height="123.70" fill="#ffe2e2"/><rect x="2055" y="1059.80" width="3" height="123.70" fill="#fff9f9"/><rect x="2058" y="1059.80" width="6" height="123.70" fill="#ffe8e8"/><rect x="2064" y="1059.80" width="5" height="123.70" fill="#ffeaea"/><rect x="2069" y="1059.80" width="7" height="123.70" fill="#f6f6ff"/><rect x="2076" y="1059.80" width="7" height="123.70" fill="#fff0f0"/><rect x="2083" y="1059.80" width="6" height="123.70" fill="#e3e3ff"/><rect x="2089" y="1059.80" width="3" height="123.70" fill="#fff9f9"/><rect x="2092" y="1059.80" width="3" height="123.70" fill="#e7e7ff"/><rect x="2095" y="1059.80" width="5" height="123.70" fill="#e8e8ff"/><rect x="2100" y="1059.80" width="8" height="123.70" fill="#fffefe"/><rect x="2108" y="1059.80" width="8" height="123.70" fill="#d0d0ff"/><rect x="2116" y="1059.80" width="2" height="123.70" fill="#fff8f8"/><rect x="207" y="1059.80" width="3" height="123.70" fill="#ffc0c0"/><rect x="210" y="1059.80" width="10" height="123.70" fill="#ffb8b8"/><rect x="220" y="1059.80" width="8" height="123.70" fill="#b8b8ff"/><rect x="228" y="1059.80" width="12" height="123.70" fill="#ffe0e0"/><rect x="240" y="1059.80" width="6" height="123.70" fill="#ffd0d0"/><rect x="246" y="1059.80" width="28" height="123.70" fill="#f8f4fc"/><rect x="274" y="1059.80" width="6" height="123.70" fill="#c8c8ff"/><rect x="280" y="1059.80" width="8" height="123.70" fill="#ffc8c8"/><rect x="288" y="1059.80" width="6" height="123.70" fill="#c0c0ff"/><rect x="294" y="1059.80" width="8" height="123.70" fill="#ffc0c0"/><rect x="302" y="1059.80" width="6" height="123.70" fill="#c0c0ff"/><rect x="308" y="1059.80" width="8" height="123.70" fill="#ffb8b8"/><rect x="316" y="1059.80" width="6" height="123.70" fill="#d0d0ff"/><rect x="322" y="1059.80" width="12" height="123.70" fill="#ffb4b4"/><rect x="334" y="1059.80" width="4" height="123.70" fill="#c0c0ff"/><rect x="338" y="1059.80" width="16" height="123.70" fill="#ffe0e0"/><rect x="354" y="1059.80" width="6" height="123.70" fill="#d8d8ff"/><rect x="360" y="1059.80" width="18" height="123.70" fill="#fff0f0"/><rect x="378" y="1059.80" width="6" height="123.70" fill="#d0d0ff"/><rect x="384" y="1059.80" width="12" height="123.70" fill="#ffd0d0"/><rect x="396" y="1059.80" width="6" height="123.70" fill="#d0d0ff"/><rect x="402" y="1059.80" width="10" height="123.70" fill="#fff0f0"/><rect x="412" y="1059.80" width="8" height="123.70" fill="#e0e0ff"/><rect x="420" y="1059.80" width="10" height="123.70" fill="#ffe0e0"/><rect x="430" y="1059.80" width="10" height="123.70" fill="#ffd8d8"/><rect x="440" y="1059.80" width="6" height="123.70" fill="#d8d8ff"/><rect x="446" y="1059.80" width="10" height="123.70" fill="#ffd8d8"/><rect x="456" y="1059.80" width="7" height="123.70" fill="#e0e0ff"/><rect x="463" y="1059.80" width="18" height="123.70" fill="#ffe8e8"/><rect x="481" y="1059.80" width="6" height="123.70" fill="#d8d8ff"/><rect x="487" y="1059.80" width="14" height="123.70" fill="#ffc8c8"/><rect x="501" y="1059.80" width="8" height="123.70" fill="#ffe0e0"/><rect x="509" y="1059.80" width="6" height="123.70" fill="#d8d8ff"/><rect x="515" y="1059.80" width="6" height="123.70" fill="#ffe0e0"/><rect x="886" y="1059.80" width="6" height="123.70" fill="#d0d0ff"/><rect x="911" y="1059.80" width="6" height="123.70" fill="#ffd0d0"/><rect x="929" y="1059.80" width="8" height="123.70" fill="#8080ff"/><rect x="937" y="1059.80" width="8" height="123.70" fill="#ffa8a8"/><rect x="945" y="1059.80" width="6" height="123.70" fill="#a8a8ff"/><rect x="953" y="1059.80" width="12" height="123.70" fill="#ff9090"/><rect x="965" y="1059.80" width="6" height="123.70" fill="#a8a8ff"/><rect x="1033" y="1059.80" width="6" height="123.70" fill="#ffd0d0"/><rect x="1039" y="1059.80" width="6" height="123.70" fill="#c8c8ff"/><rect x="1071" y="1059.80" width="6" height="123.70" fill="#ffd0d0"/><rect x="1079" y="1059.80" width="4" height="123.70" fill="#c0c0ff"/><rect x="1445" y="1059.80" width="5" height="123.70" fill="#c8c8ff"/><rect x="1455" y="1059.80" width="10" height="123.70" fill="#d0d8ff"/><rect x="1470" y="1059.80" width="8" height="123.70" fill="#ffb0b8"/><rect x="207" y="1183.50" width="1911" height="124.00" fill="#fdf5f8"/><rect x="220" y="1183.50" width="4" height="124.00" fill="#fbfbff"/><rect x="224" y="1183.50" width="4" height="124.00" fill="#fefeff"/><rect x="228" y="1183.50" width="8" height="124.00" fill="#fff2f2"/><rect x="236" y="1183.50" width="3" height="124.00" fill="#fff5f5"/><rect x="239" y="1183.50" width="6" height="124.00" fill="#fff9f9"/><rect x="245" y="1183.50" width="4" height="124.00" fill="#ffefef"/><rect x="249" y="1183.50" width="7" height="124.00" fill="#fff6f6"/><rect x="256" y="1183.50" width="4" height="124.00" fill="#fff6f6"/><rect x="260" y="1183.50" width="4" height="124.00" fill="#fff9f9"/><rect x="264" y="1183.50" width="5" height="124.00" fill="#ffecec"/><rect x="269" y="1183.50" width="5" height="124.00" fill="#ffeaea"/><rect x="274" y="1183.50" width="4" height="124.00" fill="#fefeff"/><rect x="278" y="1183.50" width="5" height="124.00" fill="#f5f5ff"/><rect x="283" y="1183.50" width="4" height="124.00" fill="#fff3f3"/><rect x="287" y="1183.50" width="5" height="124.00" fill="#f8f8ff"/><rect x="292" y="1183.50" width="4" height="124.00" fill="#fefeff"/><rect x="296" y="1183.50" width="8" height="124.00" fill="#ffeded"/><rect x="304" y="1183.50" width="4" height="124.00" fill="#fffbfb"/><rect x="308" y="1183.50" width="8" height="124.00" fill="#ffe0e0"/><rect x="316" y="1183.50" width="5" height="124.00" fill="#f8f8ff"/><rect x="321" y="1183.50" width="5" height="124.00" fill="#fcfcff"/><rect x="326" y="1183.50" width="6" height="124.00" fill="#ffffff"/><rect x="332" y="1183.50" width="7" height="124.00" fill="#fff5f5"/><rect x="339" y="1183.50" width="4" height="124.00" fill="#ffffff"/><rect x="343" y="1183.50" width="6" height="124.00" fill="#fefeff"/><rect x="349" y="1183.50" width="7" height="124.00" fill="#fff1f1"/><rect x="356" y="1183.50" width="4" height="124.00" fill="#ffeaea"/><rect x="360" y="1183.50" width="3" height="124.00" fill="#fefeff"/><rect x="363" y="1183.50" width="8" height="124.00" fill="#fdfdff"/><rect x="371" y="1183.50" width="4" height="124.00" fill="#fffafa"/><rect x="375" y="1183.50" width="7" height="124.00" fill="#ffeded"/><rect x="382" y="1183.50" width="6" height="124.00" fill="#fffdfd"/><rect x="388" y="1183.50" width="4" height="124.00" fill="#ffdbdb"/><rect x="392" y="1183.50" width="6" height="124.00" fill="#fffcfc"/><rect x="398" y="1183.50" width="5" height="124.00" fill="#fff6f6"/><rect x="403" y="1183.50" width="4" height="124.00" fill="#f1f1ff"/><rect x="407" y="1183.50" width="5" height="124.00" fill="#f3f3ff"/><rect x="412" y="1183.50" width="5" height="124.00" fill="#fafaff"/><rect x="417" y="1183.50" width="6" height="124.00" fill="#ffe1e1"/><rect x="423" y="1183.50" width="3" height="124.00" fill="#fffafa"/><rect x="426" y="1183.50" width="5" height="124.00" fill="#fdfdff"/><rect x="431" y="1183.50" width="7" height="124.00" fill="#fcfcff"/><rect x="438" y="1183.50" width="3" height="124.00" fill="#fff5f5"/><rect x="441" y="1183.50" width="4" height="124.00" fill="#f6f6ff"/><rect x="445" y="1183.50" width="3" height="124.00" fill="#fff9f9"/><rect x="448" y="1183.50" width="3" height="124.00" fill="#ffeded"/><rect x="451" y="1183.50" width="5" height="124.00" fill="#fff5f5"/><rect x="456" y="1183.50" width="4" height="124.00" fill="#f8f8ff"/><rect x="460" y="1183.50" width="7" height="124.00" fill="#fffcfc"/><rect x="467" y="1183.50" width="5" height="124.00" fill="#fefeff"/><rect x="472" y="1183.50" width="8" height="124.00" fill="#fffefe"/><rect x="480" y="1183.50" width="4" height="124.00" fill="#ffeaea"/><rect x="484" y="1183.50" width="5" height="124.00" fill="#ffe8e8"/><rect x="489" y="1183.50" width="4" height="124.00" fill="#fffdfd"/><rect x="493" y="1183.50" width="4" height="124.00" fill="#fff9f9"/><rect x="497" y="1183.50" width="5" height="124.00" fill="#fefeff"/><rect x="502" y="1183.50" width="3" height="124.00" fill="#fff5f5"/><rect x="505" y="1183.50" width="3" height="124.00" fill="#fcfcff"/><rect x="508" y="1183.50" width="6" height="124.00" fill="#fafaff"/><rect x="514" y="1183.50" width="8" height="124.00" fill="#fafaff"/><rect x="522" y="1183.50" width="8" height="124.00" fill="#fdfdff"/><rect x="530" y="1183.50" width="5" height="124.00" fill="#fffafa"/><rect x="535" y="1183.50" width="3" height="124.00" fill="#fffafa"/><rect x="538" y="1183.50" width="3" height="124.00" fill="#fefeff"/><rect x="541" y="1183.50" width="3" height="124.00" fill="#fff6f6"/><rect x="544" y="1183.50" width="4" height="124.00" fill="#ffeded"/><rect x="548" y="1183.50" width="5" height="124.00" fill="#fff9f9"/><rect x="553" y="1183.50" width="4" height="124.00" fill="#fafaff"/><rect x="557" y="1183.50" width="7" height="124.00" fill="#fff4f4"/><rect x="564" y="1183.50" width="4" height="124.00" fill="#fffefe"/><rect x="568" y="1183.50" width="3" height="124.00" fill="#fffafa"/><rect x="571" y="1183.50" width="8" height="124.00" fill="#fffafa"/><rect x="579" y="1183.50" width="7" height="124.00" fill="#fffbfb"/><rect x="586" y="1183.50" width="8" height="124.00" fill="#ffeded"/><rect x="594" y="1183.50" width="4" height="124.00" fill="#fff3f3"/><rect x="598" y="1183.50" width="5" height="124.00" fill="#fff2f2"/><rect x="603" y="1183.50" width="3" height="124.00" fill="#fffafa"/><rect x="606" y="1183.50" width="4" height="124.00" fill="#fbfbff"/><rect x="610" y="1183.50" width="5" height="124.00" fill="#ffebeb"/><rect x="615" y="1183.50" width="3" height="124.00" fill="#fffbfb"/><rect x="618" y="1183.50" width="7" height="124.00" fill="#ffeded"/><rect x="625" y="1183.50" width="5" height="124.00" fill="#fdfdff"/><rect x="630" y="1183.50" width="5" height="124.00" fill="#ffe3e3"/><rect x="635" y="1183.50" width="4" height="124.00" fill="#fff9f9"/><rect x="639" y="1183.50" width="5" height="124.00" fill="#fffbfb"/><rect x="644" y="1183.50" width="5" height="124.00" fill="#fff6f6"/><rect x="649" y="1183.50" width="4" height="124.00" fill="#fefeff"/><rect x="653" y="1183.50" width="6" height="124.00" fill="#fff6f6"/><rect x="659" y="1183.50" width="5" height="124.00" fill="#fff0f0"/><rect x="664" y="1183.50" width="7" height="124.00" fill="#ffeeee"/><rect x="671" y="1183.50" width="8" height="124.00" fill="#fcfcff"/><rect x="679" y="1183.50" width="8" height="124.00" fill="#fff1f1"/><rect x="687" y="1183.50" width="3" height="124.00" fill="#f7f7ff"/><rect x="690" y="1183.50" width="7" height="124.00" fill="#fff3f3"/><rect x="697" y="1183.50" width="5" height="124.00" fill="#fffcfc"/><rect x="702" y="1183.50" width="5" height="124.00" fill="#fafaff"/><rect x="707" y="1183.50" width="4" height="124.00" fill="#fff1f1"/><rect x="711" y="1183.50" width="4" height="124.00" fill="#fff5f5"/><rect x="715" y="1183.50" width="4" height="124.00" fill="#fff9f9"/><rect x="719" y="1183.50" width="6" height="124.00" fill="#ffeaea"/><rect x="725" y="1183.50" width="3" height="124.00" fill="#fffcfc"/><rect x="728" y="1183.50" width="3" height="124.00" fill="#fff0f0"/><rect x="731" y="1183.50" width="3" height="124.00" fill="#ffefef"/><rect x="734" y="1183.50" width="4" height="124.00" fill="#fffafa"/><rect x="738" y="1183.50" width="6" height="124.00" fill="#fffefe"/><rect x="744" y="1183.50" width="5" height="124.00" fill="#fff2f2"/><rect x="749" y="1183.50" width="4" height="124.00" fill="#f3f3ff"/><rect x="753" y="1183.50" width="7" height="124.00" fill="#fff4f4"/><rect x="760" y="1183.50" width="4" height="124.00" fill="#fff6f6"/><rect x="764" y="1183.50" width="3" height="124.00" fill="#ffe7e7"/><rect x="767" y="1183.50" width="4" height="124.00" fill="#fff6f6"/><rect x="771" y="1183.50" width="5" height="124.00" fill="#ffffff"/><rect x="776" y="1183.50" width="5" height="124.00" fill="#fff9f9"/><rect x="781" y="1183.50" width="5" height="124.00" fill="#fffefe"/><rect x="786" y="1183.50" width="3" height="124.00" fill="#fff0f0"/><rect x="789" y="1183.50" width="6" height="124.00" fill="#fffafa"/><rect x="795" y="1183.50" width="6" height="124.00" fill="#fff2f2"/><rect x="801" y="1183.50" width="6" height="124.00" fill="#fff8f8"/><rect x="807" y="1183.50" width="8" height="124.00" fill="#f6f6ff"/><rect x="815" y="1183.50" width="5" height="124.00" fill="#fffcfc"/><rect x="820" y="1183.50" width="7" height="124.00" fill="#fffcfc"/><rect x="827" y="1183.50" width="3" height="124.00" fill="#f4f4ff"/><rect x="830" y="1183.50" width="6" height="124.00" fill="#fff3f3"/><rect x="836" y="1183.50" width="8" height="124.00" fill="#fffdfd"/><rect x="844" y="1183.50" width="5" height="124.00" fill="#f8f8ff"/><rect x="849" y="1183.50" width="4" height="124.00" fill="#fdfdff"/><rect x="853" y="1183.50" width="7" height="124.00" fill="#fffefe"/><rect x="860" y="1183.50" width="3" height="124.00" fill="#fcfcff"/><rect x="863" y="1183.50" width="3" height="124.00" fill="#fffbfb"/><rect x="866" y="1183.50" width="3" height="124.00" fill="#fffdfd"/><rect x="869" y="1183.50" width="4" height="124.00" fill="#fff6f6"/><rect x="873" y="1183.50" width="8" height="124.00" fill="#efefff"/><rect x="881" y="1183.50" width="5" height="124.00" fill="#f6f6ff"/><rect x="886" y="1183.50" width="4" height="124.00" fill="#fffbfb"/><rect x="890" y="1183.50" width="5" height="124.00" fill="#fff3f3"/><rect x="895" y="1183.50" width="8" height="124.00" fill="#ffeeee"/><rect x="903" y="1183.50" width="4" height="124.00" fill="#ffe5e5"/><rect x="907" y="1183.50" width="8" height="124.00" fill="#fff6f6"/><rect x="915" y="1183.50" width="4" height="124.00" fill="#f5f5ff"/><rect x="919" y="1183.50" width="6" height="124.00" fill="#fefeff"/><rect x="925" y="1183.50" width="7" height="124.00" fill="#fff2f2"/><rect x="932" y="1183.50" width="4" height="124.00" fill="#f7f7ff"/><rect x="936" y="1183.50" width="6" height="124.00" fill="#fff3f3"/><rect x="942" y="1183.50" width="5" height="124.00" fill="#fffdfd"/><rect x="947" y="1183.50" width="4" height="124.00" fill="#fff0f0"/><rect x="951" y="1183.50" width="7" height="124.00" fill="#ffecec"/><rect x="958" y="1183.50" width="8" height="124.00" fill="#fffbfb"/><rect x="966" y="1183.50" width="4" height="124.00" fill="#f3f3ff"/><rect x="970" y="1183.50" width="3" height="124.00" fill="#fffdfd"/><rect x="973" y="1183.50" width="6" height="124.00" fill="#f9f9ff"/><rect x="979" y="1183.50" width="8" height="124.00" fill="#fefeff"/><rect x="987" y="1183.50" width="6" height="124.00" fill="#fff5f5"/><rect x="993" y="1183.50" width="5" height="124.00" fill="#fff0f0"/><rect x="998" y="1183.50" width="5" height="124.00" fill="#fff2f2"/><rect x="1003" y="1183.50" width="5" height="124.00" fill="#fff2f2"/><rect x="1008" y="1183.50" width="5" height="124.00" fill="#fffcfc"/><rect x="1013" y="1183.50" width="4" height="124.00" fill="#ffe9e9"/><rect x="1017" y="1183.50" width="4" height="124.00" fill="#ffeaea"/><rect x="1021" y="1183.50" width="6" height="124.00" fill="#fffcfc"/><rect x="1027" y="1183.50" width="4" height="124.00" fill="#fff8f8"/><rect x="1031" y="1183.50" width="5" height="124.00" fill="#ffe1e1"/><rect x="1036" y="1183.50" width="4" height="124.00" fill="#fff2f2"/><rect x="1040" y="1183.50" width="5" height="124.00" fill="#ffeded"/><rect x="1045" y="1183.50" width="7" height="124.00" fill="#fff7f7"/><rect x="1052" y="1183.50" width="5" height="124.00" fill="#fff5f5"/><rect x="1057" y="1183.50" width="5" height="124.00" fill="#fefeff"/><rect x="1062" y="1183.50" width="4" height="124.00" fill="#fff7f7"/><rect x="1066" y="1183.50" width="5" height="124.00" fill="#fff7f7"/><rect x="1071" y="1183.50" width="3" height="124.00" fill="#fff0f0"/><rect x="1074" y="1183.50" width="3" height="124.00" fill="#f6f6ff"/><rect x="1077" y="1183.50" width="5" height="124.00" fill="#ffefef"/><rect x="1082" y="1183.50" width="5" height="124.00" fill="#ffffff"/><rect x="1087" y="1183.50" width="7" height="124.00" fill="#fff9f9"/><rect x="1094" y="1183.50" width="3" height="124.00" fill="#fffbfb"/><rect x="1097" y="1183.50" width="7" height="124.00" fill="#eeeeff"/><rect x="1104" y="1183.50" width="7" height="124.00" fill="#fff1f1"/><rect x="1111" y="1183.50" width="5" height="124.00" fill="#f8f8ff"/><rect x="1116" y="1183.50" width="4" height="124.00" fill="#fdfdff"/><rect x="1120" y="1183.50" width="6" height="124.00" fill="#fbfbff"/><rect x="1126" y="1183.50" width="5" height="124.00" fill="#fffdfd"/><rect x="1131" y="1183.50" width="7" height="124.00" fill="#fffdfd"/><rect x="1138" y="1183.50" width="5" height="124.00" fill="#fff7f7"/><rect x="1143" y="1183.50" width="4" height="124.00" fill="#f4f4ff"/><rect x="1147" y="1183.50" width="5" height="124.00" fill="#fff3f3"/><rect x="1152" y="1183.50" width="3" height="124.00" fill="#fbfbff"/><rect x="1155" y="1183.50" width="7" height="124.00" fill="#f5f5ff"/><rect x="1162" y="1183.50" width="4" height="124.00" fill="#fffcfc"/><rect x="1166" y="1183.50" width="6" height="124.00" fill="#fff8f8"/><rect x="1172" y="1183.50" width="8" height="124.00" fill="#fafaff"/><rect x="1180" y="1183.50" width="4" height="124.00" fill="#ffeded"/><rect x="1184" y="1183.50" width="4" height="124.00" fill="#fff7f7"/><rect x="1188" y="1183.50" width="5" height="124.00" fill="#ffffff"/><rect x="1193" y="1183.50" width="8" height="124.00" fill="#fffafa"/><rect x="1201" y="1183.50" width="5" height="124.00" fill="#fffcfc"/><rect x="1206" y="1183.50" width="6" height="124.00" fill="#f8f8ff"/><rect x="1212" y="1183.50" width="6" height="124.00" fill="#efefff"/><rect x="1218" y="1183.50" width="5" height="124.00" fill="#ffeded"/><rect x="1223" y="1183.50" width="4" height="124.00" fill="#f7f7ff"/><rect x="1227" y="1183.50" width="4" height="124.00" fill="#ffefef"/><rect x="1231" y="1183.50" width="6" height="124.00" fill="#ffffff"/><rect x="1237" y="1183.50" width="7" height="124.00" fill="#fefeff"/><rect x="1244" y="1183.50" width="7" height="124.00" fill="#fff6f6"/><rect x="1251" y="1183.50" width="7" height="124.00" fill="#fff8f8"/><rect x="1258" y="1183.50" width="6" height="124.00" fill="#fffefe"/><rect x="1264" y="1183.50" width="5" height="124.00" fill="#fffcfc"/><rect x="1269" y="1183.50" width="7" height="124.00" fill="#ffeeee"/><rect x="1276" y="1183.50" width="5" height="124.00" fill="#ffffff"/><rect x="1281" y="1183.50" width="7" height="124.00" fill="#fefeff"/><rect x="1288" y="1183.50" width="4" height="124.00" fill="#fff8f8"/><rect x="1292" y="1183.50" width="5" height="124.00" fill="#f7f7ff"/><rect x="1297" y="1183.50" width="5" height="124.00" fill="#fff7f7"/><rect x="1302" y="1183.50" width="4" height="124.00" fill="#fbfbff"/><rect x="1306" y="1183.50" width="7" height="124.00" fill="#ffeeee"/><rect x="1313" y="1183.50" width="8" height="124.00" fill="#ffe9e9"/><rect x="1321" y="1183.50" width="4" height="124.00" fill="#fffafa"/><rect x="1325" y="1183.50" width="8" height="124.00" fill="#f8f8ff"/><rect x="1333" y="1183.50" width="5" height="124.00" fill="#ffeaea"/><rect x="1338" y="1183.50" width="7" height="124.00" fill="#f9f9ff"/><rect x="1345" y="1183.50" width="4" height="124.00" fill="#e9e9ff"/><rect x="1349" y="1183.50" width="8" height="124.00" fill="#ffeaea"/><rect x="1357" y="1183.50" width="5" height="124.00" fill="#fffafa"/><rect x="1362" y="1183.50" width="6" height="124.00" fill="#fffafa"/><rect x="1368" y="1183.50" width="8" height="124.00" fill="#fff1f1"/><rect x="1376" y="1183.50" width="8" height="124.00" fill="#f7f7ff"/><rect x="1384" y="1183.50" width="6" height="124.00" fill="#fff4f4"/><rect x="1390" y="1183.50" width="4" height="124.00" fill="#ffe8e8"/><rect x="1394" y="1183.50" width="3" height="124.00" fill="#fbfbff"/><rect x="1397" y="1183.50" width="4" height="124.00" fill="#ffefef"/><rect x="1401" y="1183.50" width="4" height="124.00" fill="#f1f1ff"/><rect x="1405" y="1183.50" width="6" height="124.00" fill="#fffbfb"/><rect x="1411" y="1183.50" width="3" height="124.00" fill="#fffbfb"/><rect x="1414" y="1183.50" width="5" height="124.00" fill="#ffecec"/><rect x="1419" y="1183.50" width="5" height="124.00" fill="#fffefe"/><rect x="1424" y="1183.50" width="4" height="124.00" fill="#f2f2ff"/><rect x="1428" y="1183.50" width="4" height="124.00" fill="#fbfbff"/><rect x="1432" y="1183.50" width="8" height="124.00" fill="#fffdfd"/><rect x="1440" y="1183.50" width="7" height="124.00" fill="#fff5f5"/><rect x="1447" y="1183.50" width="4" height="124.00" fill="#f8f8ff"/><rect x="1451" y="1183.50" width="4" height="124.00" fill="#fafaff"/><rect x="1455" y="1183.50" width="5" height="124.00" fill="#fff5f5"/><rect x="1460" y="1183.50" width="4" height="124.00" fill="#ffebeb"/><rect x="1464" y="1183.50" width="8" height="124.00" fill="#fffcfc"/><rect x="1472" y="1183.50" width="4" height="124.00" fill="#fffefe"/><rect x="1476" y="1183.50" width="5" height="124.00" fill="#f3f3ff"/><rect x="1481" y="1183.50" width="8" height="124.00" fill="#fff1f1"/><rect x="1489" y="1183.50" width="8" height="124.00" fill="#f9f9ff"/><rect x="1497" y="1183.50" width="4" height="124.00" fill="#fffefe"/><rect x="1501" y="1183.50" width="8" height="124.00" fill="#fffafa"/><rect x="1509" y="1183.50" width="3" height="124.00" fill="#fff4f4"/><rect x="1512" y="1183.50" width="4" height="124.00" fill="#fff4f4"/><rect x="1516" y="1183.50" width="8" height="124.00" fill="#fafaff"/><rect x="1524" y="1183.50" width="5" height="124.00" fill="#fff5f5"/><rect x="1529" y="1183.50" width="7" height="124.00" fill="#fcfcff"/><rect x="1536" y="1183.50" width="4" height="124.00" fill="#fff6f6"/><rect x="1540" y="1183.50" width="3" height="124.00" fill="#fff1f1"/><rect x="1543" y="1183.50" width="3" height="124.00" fill="#f8f8ff"/><rect x="1546" y="1183.50" width="6" height="124.00" fill="#fafaff"/><rect x="1552" y="1183.50" width="4" height="124.00" fill="#f8f8ff"/><rect x="1556" y="1183.50" width="4" height="124.00" fill="#fffbfb"/><rect x="1560" y="1183.50" width="3" height="124.00" fill="#fff7f7"/><rect x="1563" y="1183.50" width="4" height="124.00" fill="#fff0f0"/><rect x="1567" y="1183.50" width="6" height="124.00" fill="#ffeded"/><rect x="1573" y="1183.50" width="6" height="124.00" fill="#fff2f2"/><rect x="1579" y="1183.50" width="8" height="124.00" fill="#fff8f8"/><rect x="1587" y="1183.50" width="5" height="124.00" fill="#f7f7ff"/><rect x="1592" y="1183.50" width="5" height="124.00" fill="#fafaff"/><rect x="1597" y="1183.50" width="3" height="124.00" fill="#fff6f6"/><rect x="1600" y="1183.50" width="5" height="124.00" fill="#ffffff"/><rect x="1605" y="1183.50" width="7" height="124.00" fill="#ffe7e7"/><rect x="1612" y="1183.50" width="6" height="124.00" fill="#fcfcff"/><rect x="1618" y="1183.50" width="6" height="124.00" fill="#fffafa"/><rect x="1624" y="1183.50" width="5" height="124.00" fill="#fafaff"/><rect x="1629" y="1183.50" width="6" height="124.00" fill="#f5f5ff"/><rect x="1635" y="1183.50" width="5" height="124.00" fill="#fffdfd"/><rect x="1640" y="1183.50" width="4" height="124.00" fill="#fff2f2"/><rect x="1644" y="1183.50" width="3" height="124.00" fill="#fafaff"/><rect x="1647" y="1183.50" width="7" height="124.00" fill="#fff2f2"/><rect x="1654" y="1183.50" width="3" height="124.00" fill="#fffefe"/><rect x="1657" y="1183.50" width="3" height="124.00" fill="#fff7f7"/><rect x="1660" y="1183.50" width="5" height="124.00" fill="#fff5f5"/><rect x="1665" y="1183.50" width="3" height="124.00" fill="#fafaff"/><rect x="1668" y="1183.50" width="7" height="124.00" fill="#f9f9ff"/><rect x="1675" y="1183.50" width="4" height="124.00" fill="#fbfbff"/><rect x="1679" y="1183.50" width="5" height="124.00" fill="#ffecec"/><rect x="1684" y="1183.50" width="4" height="124.00" fill="#fff6f6"/><rect x="1688" y="1183.50" width="4" height="124.00" fill="#f9f9ff"/><rect x="1692" y="1183.50" width="7" height="124.00" fill="#f2f2ff"/><rect x="1699" y="1183.50" width="4" height="124.00" fill="#ffeded"/><rect x="1703" y="1183.50" width="6" height="124.00" fill="#fcfcff"/><rect x="1709" y="1183.50" width="4" height="124.00" fill="#fff7f7"/><rect x="1713" y="1183.50" width="5" height="124.00" fill="#f7f7ff"/><rect x="1718" y="1183.50" width="5" height="124.00" fill="#fff9f9"/><rect x="1723" y="1183.50" width="3" height="124.00" fill="#fff7f7"/><rect x="1726" y="1183.50" width="7" height="124.00" fill="#f8f8ff"/><rect x="1733" y="1183.50" width="3" height="124.00" fill="#ffffff"/><rect x="1736" y="1183.50" width="8" height="124.00" fill="#fffdfd"/><rect x="1744" y="1183.50" width="4" height="124.00" fill="#fffbfb"/><rect x="1748" y="1183.50" width="7" height="124.00" fill="#f0f0ff"/><rect x="1755" y="1183.50" width="8" height="124.00" fill="#fafaff"/><rect x="1763" y="1183.50" width="4" height="124.00" fill="#fff0f0"/><rect x="1767" y="1183.50" width="4" height="124.00" fill="#fff9f9"/><rect x="1771" y="1183.50" width="8" height="124.00" fill="#fff8f8"/><rect x="1779" y="1183.50" width="4" height="124.00" fill="#f7f7ff"/><rect x="1783" y="1183.50" width="8" height="124.00" fill="#fff9f9"/><rect x="1791" y="1183.50" width="3" height="124.00" fill="#fff4f4"/><rect x="1794" y="1183.50" width="7" height="124.00" fill="#ffeaea"/><rect x="1801" y="1183.50" width="4" height="124.00" fill="#fff9f9"/><rect x="1805" y="1183.50" width="4" height="124.00" fill="#fff9f9"/><rect x="1809" y="1183.50" width="8" height="124.00" fill="#fff5f5"/><rect x="1817" y="1183.50" width="3" height="124.00" fill="#fffcfc"/><rect x="1820" y="1183.50" width="8" height="124.00" fill="#ffeded"/><rect x="1828" y="1183.50" width="4" height="124.00" fill="#fff1f1"/><rect x="1832" y="1183.50" width="4" height="124.00" fill="#fffefe"/><rect x="1836" y="1183.50" width="4" height="124.00" fill="#fffdfd"/><rect x="1840" y="1183.50" width="8" height="124.00" fill="#ffeded"/><rect x="1848" y="1183.50" width="8" height="124.00" fill="#fafaff"/><rect x="1856" y="1183.50" width="3" height="124.00" fill="#f1f1ff"/><rect x="1859" y="1183.50" width="3" height="124.00" fill="#fff8f8"/><rect x="1862" y="1183.50" width="4" height="124.00" fill="#fffafa"/><rect x="1866" y="1183.50" width="7" height="124.00" fill="#fefeff"/><rect x="1873" y="1183.50" width="4" height="124.00" fill="#ffebeb"/><rect x="1877" y="1183.50" width="8" height="124.00" fill="#fdfdff"/><rect x="1885" y="1183.50" width="8" height="124.00" fill="#fefeff"/><rect x="1893" y="1183.50" width="8" height="124.00" fill="#fffcfc"/><rect x="1901" y="1183.50" width="4" height="124.00" fill="#ffffff"/><rect x="1905" y="1183.50" width="6" height="124.00" fill="#fff4f4"/><rect x="1911" y="1183.50" width="7" height="124.00" fill="#fffcfc"/><rect x="1918" y="1183.50" width="8" height="124.00" fill="#f7f7ff"/><rect x="1926" y="1183.50" width="5" height="124.00" fill="#ffeeee"/><rect x="1931" y="1183.50" width="6" height="124.00" fill="#fffbfb"/><rect x="1937" y="1183.50" width="6" height="124.00" fill="#fff6f6"/><rect x="1943" y="1183.50" width="3" height="124.00" fill="#fff3f3"/><rect x="1946" y="1183.50" width="5" height="124.00" fill="#f8f8ff"/><rect x="1951" y="1183.50" width="7" height="124.00" fill="#fff2f2"/><rect x="1958" y="1183.50" width="7" height="124.00" fill="#fffbfb"/><rect x="1965" y="1183.50" width="7" height="124.00" fill="#f3f3ff"/><rect x="1972" y="1183.50" width="8" height="124.00" fill="#f7f7ff"/><rect x="1980" y="1183.50" width="5" height="124.00" fill="#fffdfd"/><rect x="1985" y="1183.50" width="5" height="124.00" fill="#fcfcff"/><rect x="1990" y="1183.50" width="7" height="124.00" fill="#ffeded"/><rect x="1997" y="1183.50" width="3" height="124.00" fill="#ffe7e7"/><rect x="2000" y="1183.50" width="5" height="124.00" fill="#fff1f1"/><rect x="2005" y="1183.50" width="4" height="124.00" fill="#f4f4ff"/><rect x="2009" y="1183.50" width="5" height="124.00" fill="#ffe8e8"/><rect x="2014" y="1183.50" width="8" height="124.00" fill="#fffdfd"/><rect x="2022" y="1183.50" width="6" height="124.00" fill="#f8f8ff"/><rect x="2028" y="1183.50" width="8" height="124.00" fill="#fffdfd"/><rect x="2036" y="1183.50" width="7" height="124.00" fill="#fff5f5"/><rect x="2043" y="1183.50" width="5" height="124.00" fill="#ffeaea"/><rect x="2048" y="1183.50" width="5" height="124.00" fill="#f8f8ff"/><rect x="2053" y="1183.50" width="8" height="124.00" fill="#fbfbff"/><rect x="2061" y="1183.50" width="5" height="124.00" fill="#ffeeee"/><rect x="2066" y="1183.50" width="3" height="124.00" fill="#fefeff"/><rect x="2069" y="1183.50" width="7" height="124.00" fill="#fffefe"/><rect x="2076" y="1183.50" width="6" height="124.00" fill="#fff9f9"/><rect x="2082" y="1183.50" width="4" height="124.00" fill="#fff8f8"/><rect x="2086" y="1183.50" width="5" height="124.00" fill="#ffeded"/><rect x="2091" y="1183.50" width="6" height="124.00" fill="#f7f7ff"/><rect x="2097" y="1183.50" width="5" height="124.00" fill="#fff8f8"/><rect x="2102" y="1183.50" width="5" height="124.00" fill="#fff8f8"/><rect x="2107" y="1183.50" width="5" height="124.00" fill="#fff4f4"/><rect x="2112" y="1183.50" width="6" height="124.00" fill="#fcfcff"/><rect x="207" y="1183.50" width="5" height="124.00" fill="#ffc0c0"/><rect x="212" y="1183.50" width="8" height="124.00" fill="#e0d0ff"/><rect x="854" y="1183.50" width="14" height="124.00" fill="#ffdcdc"/><rect x="900" y="1183.50" width="3" height="124.00" fill="#ffd8d8"/><rect x="905" y="1183.50" width="6" height="124.00" fill="#e4e4ff"/><rect x="913" y="1183.50" width="5" height="124.00" fill="#ffd0d0"/><rect x="919" y="1183.50" width="3" height="124.00" fill="#c0c0ff"/><rect x="923" y="1183.50" width="4" height="124.00" fill="#f8f0ff"/><rect x="928" y="1183.50" width="4" height="124.00" fill="#ffd0dc"/><rect x="933" y="1183.50" width="3" height="124.00" fill="#a0a0f8"/><rect x="936" y="1183.50" width="4" height="124.00" fill="#d8a0e0"/><rect x="940" y="1183.50" width="3" height="124.00" fill="#c0a8f0"/><rect x="943" y="1183.50" width="9" height="124.00" fill="#f0b8d8"/><rect x="952" y="1183.50" width="5" height="124.00" fill="#d0b0ec"/><rect x="958" y="1183.50" width="2" height="124.00" fill="#ffc0c8"/><rect x="960" y="1183.50" width="6" height="124.00" fill="#ffffff"/><rect x="966" y="1183.50" width="4" height="124.00" fill="#c0c0ff"/><rect x="970" y="1183.50" width="4" height="124.00" fill="#ffc0c0"/><rect x="1410" y="1183.50" width="19" height="124.00" fill="#fff0f4"/><rect x="1430" y="1183.50" width="3" height="124.00" fill="#e0e0ff"/><rect x="1433" y="1183.50" width="14" height="124.00" fill="#f8b8cc"/><rect x="1447" y="1183.50" width="6" height="124.00" fill="#c8d0ff"/><rect x="1453" y="1183.50" width="8" height="124.00" fill="#f8b8cc"/><rect x="1461" y="1183.50" width="4" height="124.00" fill="#c8b8f4"/><rect x="1465" y="1183.50" width="5" height="124.00" fill="#d0b4ec"/><rect x="1470" y="1183.50" width="5" height="124.00" fill="#ffb8c8"/><rect x="1475" y="1183.50" width="5" height="124.00" fill="#f0c0dc"/><rect x="1480" y="1183.50" width="5" height="124.00" fill="#dcd4fc"/></g><rect x="207" y="69" width="1911" height="1239" fill="none" stroke="#151515" stroke-width="4.5"/><g stroke="#151515" stroke-width="4"><line x1="209" y1="1248.0" x2="237" y2="1248.0"/><line x1="209" y1="1123.7" x2="237" y2="1123.7"/><line x1="209" y1="999.5" x2="237" y2="999.5"/><line x1="209" y1="875.2" x2="237" y2="875.2"/><line x1="209" y1="751.0" x2="237" y2="751.0"/><line x1="209" y1="626.8" x2="237" y2="626.8"/><line x1="209" y1="502.5" x2="237" y2="502.5"/><line x1="209" y1="378.3" x2="237" y2="378.3"/><line x1="209" y1="254.0" x2="237" y2="254.0"/><line x1="209" y1="129.8" x2="237" y2="129.8"/></g><g stroke="#151515" stroke-width="4"><line x1="301.5" y1="1306" x2="301.5" y2="1279"/><line x1="493.0" y1="1306" x2="493.0" y2="1279"/><line x1="685.0" y1="1306" x2="685.0" y2="1279"/><line x1="876.5" y1="1306" x2="876.5" y2="1279"/><line x1="1068.5" y1="1306" x2="1068.5" y2="1279"/><line x1="1258.5" y1="1306" x2="1258.5" y2="1279"/><line x1="1448.5" y1="1306" x2="1448.5" y2="1279"/><line x1="1640.5" y1="1306" x2="1640.5" y2="1279"/><line x1="1831.5" y1="1306" x2="1831.5" y2="1279"/><line x1="2023.5" y1="1306" x2="2023.5" y2="1279"/></g><g font-family="Liberation Serif, serif" font-size="58" fill="#111"><text transform="translate(176.5 1266.0) scale(0.95 1)" text-anchor="end">1</text><text transform="translate(176.5 1141.7) scale(0.95 1)" text-anchor="end">2</text><text transform="translate(176.5 1017.5) scale(0.95 1)" text-anchor="end">3</text><text transform="translate(176.5 893.2) scale(0.95 1)" text-anchor="end">4</text><text transform="translate(176.5 769.0) scale(0.95 1)" text-anchor="end">5</text><text transform="translate(176.5 644.8) scale(0.95 1)" text-anchor="end">6</text><text transform="translate(176.5 520.5) scale(0.95 1)" text-anchor="end">7</text><text transform="translate(176.5 396.3) scale(0.95 1)" text-anchor="end">8</text><text transform="translate(176.5 272.0) scale(0.95 1)" text-anchor="end">9</text><text transform="translate(176.5 147.8) scale(0.95 1)" text-anchor="end">10</text><text transform="translate(303.0 1384) scale(0.95 1)" text-anchor="middle">400</text><text transform="translate(494.5 1384) scale(0.95 1)" text-anchor="middle">500</text><text transform="translate(686.5 1384) scale(0.95 1)" text-anchor="middle">600</text><text transform="translate(878.0 1384) scale(0.95 1)" text-anchor="middle">700</text><text transform="translate(1070.0 1384) scale(0.95 1)" text-anchor="middle">800</text><text transform="translate(1260.0 1384) scale(0.95 1)" text-anchor="middle">900</text><text transform="translate(1450.0 1384) scale(0.95 1)" text-anchor="middle">1000</text><text transform="translate(1642.0 1384) scale(0.95 1)" text-anchor="middle">1100</text><text transform="translate(1833.0 1384) scale(0.95 1)" text-anchor="middle">1200</text><text transform="translate(2025.0 1384) scale(0.95 1)" text-anchor="middle">1300</text></g><g><rect x="2197.5" y="67.00" width="115.5" height="20.00" fill="#ff0404"/><rect x="2197.5" y="86.40" width="115.5" height="20.00" fill="#ff0c0c"/><rect x="2197.5" y="105.80" width="115.5" height="20.00" fill="#ff1414"/><rect x="2197.5" y="125.20" width="115.5" height="20.00" fill="#ff1c1c"/><rect x="2197.5" y="144.59" width="115.5" height="20.00" fill="#ff2424"/><rect x="2197.5" y="163.99" width="115.5" height="20.00" fill="#ff2c2c"/><rect x="2197.5" y="183.39" width="115.5" height="20.00" fill="#ff3434"/><rect x="2197.5" y="202.79" width="115.5" height="20.00" fill="#ff3c3c"/><rect x="2197.5" y="222.19" width="115.5" height="20.00" fill="#ff4444"/><rect x="2197.5" y="241.59" width="115.5" height="20.00" fill="#ff4c4c"/><rect x="2197.5" y="260.98" width="115.5" height="20.00" fill="#ff5454"/><rect x="2197.5" y="280.38" width="115.5" height="20.00" fill="#ff5c5c"/><rect x="2197.5" y="299.78" width="115.5" height="20.00" fill="#ff6464"/><rect x="2197.5" y="319.18" width="115.5" height="20.00" fill="#ff6c6c"/><rect x="2197.5" y="338.58" width="115.5" height="20.00" fill="#ff7474"/><rect x="2197.5" y="357.98" width="115.5" height="20.00" fill="#ff7c7c"/><rect x="2197.5" y="377.38" width="115.5" height="20.00" fill="#ff8383"/><rect x="2197.5" y="396.77" width="115.5" height="20.00" fill="#ff8b8b"/><rect x="2197.5" y="416.17" width="115.5" height="20.00" fill="#ff9393"/><rect x="2197.5" y="435.57" width="115.5" height="20.00" fill="#ff9b9b"/><rect x="2197.5" y="454.97" width="115.5" height="20.00" fill="#ffa3a3"/><rect x="2197.5" y="474.37" width="115.5" height="20.00" fill="#ffabab"/><rect x="2197.5" y="493.77" width="115.5" height="20.00" fill="#ffb3b3"/><rect x="2197.5" y="513.16" width="115.5" height="20.00" fill="#ffbbbb"/><rect x="2197.5" y="532.56" width="115.5" height="20.00" fill="#ffc3c3"/><rect x="2197.5" y="551.96" width="115.5" height="20.00" fill="#ffcbcb"/><rect x="2197.5" y="571.36" width="115.5" height="20.00" fill="#ffd3d3"/><rect x="2197.5" y="590.76" width="115.5" height="20.00" fill="#ffdbdb"/><rect x="2197.5" y="610.16" width="115.5" height="20.00" fill="#ffe3e3"/><rect x="2197.5" y="629.55" width="115.5" height="20.00" fill="#ffebeb"/><rect x="2197.5" y="648.95" width="115.5" height="20.00" fill="#fff3f3"/><rect x="2197.5" y="668.35" width="115.5" height="20.00" fill="#fffbfb"/><rect x="2197.5" y="687.75" width="115.5" height="20.00" fill="#fbfbff"/><rect x="2197.5" y="707.15" width="115.5" height="20.00" fill="#f3f3ff"/><rect x="2197.5" y="726.55" width="115.5" height="20.00" fill="#ebebff"/><rect x="2197.5" y="745.95" width="115.5" height="20.00" fill="#e3e3ff"/><rect x="2197.5" y="765.34" width="115.5" height="20.00" fill="#dbdbff"/><rect x="2197.5" y="784.74" width="115.5" height="20.00" fill="#d3d3ff"/><rect x="2197.5" y="804.14" width="115.5" height="20.00" fill="#cbcbff"/><rect x="2197.5" y="823.54" width="115.5" height="20.00" fill="#c3c3ff"/><rect x="2197.5" y="842.94" width="115.5" height="20.00" fill="#bbbbff"/><rect x="2197.5" y="862.34" width="115.5" height="20.00" fill="#b3b3ff"/><rect x="2197.5" y="881.73" width="115.5" height="20.00" fill="#ababff"/><rect x="2197.5" y="901.13" width="115.5" height="20.00" fill="#a3a3ff"/><rect x="2197.5" y="920.53" width="115.5" height="20.00" fill="#9b9bff"/><rect x="2197.5" y="939.93" width="115.5" height="20.00" fill="#9393ff"/><rect x="2197.5" y="959.33" width="115.5" height="20.00" fill="#8b8bff"/><rect x="2197.5" y="978.73" width="115.5" height="20.00" fill="#8383ff"/><rect x="2197.5" y="998.12" width="115.5" height="20.00" fill="#7c7cff"/><rect x="2197.5" y="1017.52" width="115.5" height="20.00" fill="#7474ff"/><rect x="2197.5" y="1036.92" width="115.5" height="20.00" fill="#6c6cff"/><rect x="2197.5" y="1056.32" width="115.5" height="20.00" fill="#6464ff"/><rect x="2197.5" y="1075.72" width="115.5" height="20.00" fill="#5c5cff"/><rect x="2197.5" y="1095.12" width="115.5" height="20.00" fill="#5454ff"/><rect x="2197.5" y="1114.52" width="115.5" height="20.00" fill="#4c4cff"/><rect x="2197.5" y="1133.91" width="115.5" height="20.00" fill="#4444ff"/><rect x="2197.5" y="1153.31" width="115.5" height="20.00" fill="#3c3cff"/><rect x="2197.5" y="1172.71" width="115.5" height="20.00" fill="#3434ff"/><rect x="2197.5" y="1192.11" width="115.5" height="20.00" fill="#2c2cff"/><rect x="2197.5" y="1211.51" width="115.5" height="20.00" fill="#2424ff"/><rect x="2197.5" y="1230.91" width="115.5" height="20.00" fill="#1c1cff"/><rect x="2197.5" y="1250.30" width="115.5" height="20.00" fill="#1414ff"/><rect x="2197.5" y="1269.70" width="115.5" height="20.00" fill="#0c0cff"/><rect x="2197.5" y="1289.10" width="115.5" height="20.00" fill="#0404ff"/></g><rect x="2197.5" y="67" width="115.5" height="1241.5" fill="none" stroke="#151515" stroke-width="4.5"/><g stroke="#888" stroke-width="3.8"><line x1="2315" y1="67.7" x2="2342" y2="67.7"/><line x1="2315" y1="191.9" x2="2342" y2="191.9"/><line x1="2315" y1="316.1" x2="2342" y2="316.1"/><line x1="2315" y1="440.2" x2="2342" y2="440.2"/><line x1="2315" y1="564.4" x2="2342" y2="564.4"/><line x1="2315" y1="688.6" x2="2342" y2="688.6"/><line x1="2315" y1="812.8" x2="2342" y2="812.8"/><line x1="2315" y1="937.0" x2="2342" y2="937.0"/><line x1="2315" y1="1061.1" x2="2342" y2="1061.1"/><line x1="2315" y1="1185.3" x2="2342" y2="1185.3"/><line x1="2315" y1="1309.5" x2="2342" y2="1309.5"/></g><g font-family="Liberation Serif, serif" font-size="58" fill="#111"><text transform="translate(2364.5 86.6) scale(0.955 1)">1.0</text><text transform="translate(2364.5 210.9) scale(0.955 1)">0.8</text><text transform="translate(2364.5 335.2) scale(0.955 1)">0.6</text><text transform="translate(2364.5 459.5) scale(0.955 1)">0.4</text><text transform="translate(2364.5 583.8) scale(0.955 1)">0.2</text><text transform="translate(2364.5 708.1) scale(0.955 1)">0.0</text><text transform="translate(2364.5 832.4) scale(0.955 1)">-0.2</text><text transform="translate(2364.5 956.7) scale(0.955 1)">-0.4</text><text transform="translate(2364.5 1081.0) scale(0.955 1)">-0.6</text><text transform="translate(2364.5 1205.3) scale(0.955 1)">-0.8</text><text transform="translate(2364.5 1329.6) scale(0.955 1)">-1.0</text></g><text transform="translate(1164.5 1498) scale(0.954 1)" x="0" y="0" text-anchor="middle" font-family="Liberation Serif, serif" font-size="77" fill="#111">Wavelength/nm</text><text transform="translate(88.5 689) rotate(-90) scale(0.986 1)" x="0" y="0" text-anchor="middle" font-family="Liberation Serif, serif" font-size="77" fill="#111">Decomposition scales</text><text transform="translate(2262 59.5) scale(1.25 1)" x="0" y="0" text-anchor="middle" font-family="Liberation Serif, serif" font-size="70" fill="#111">r</text></svg></body></html>
